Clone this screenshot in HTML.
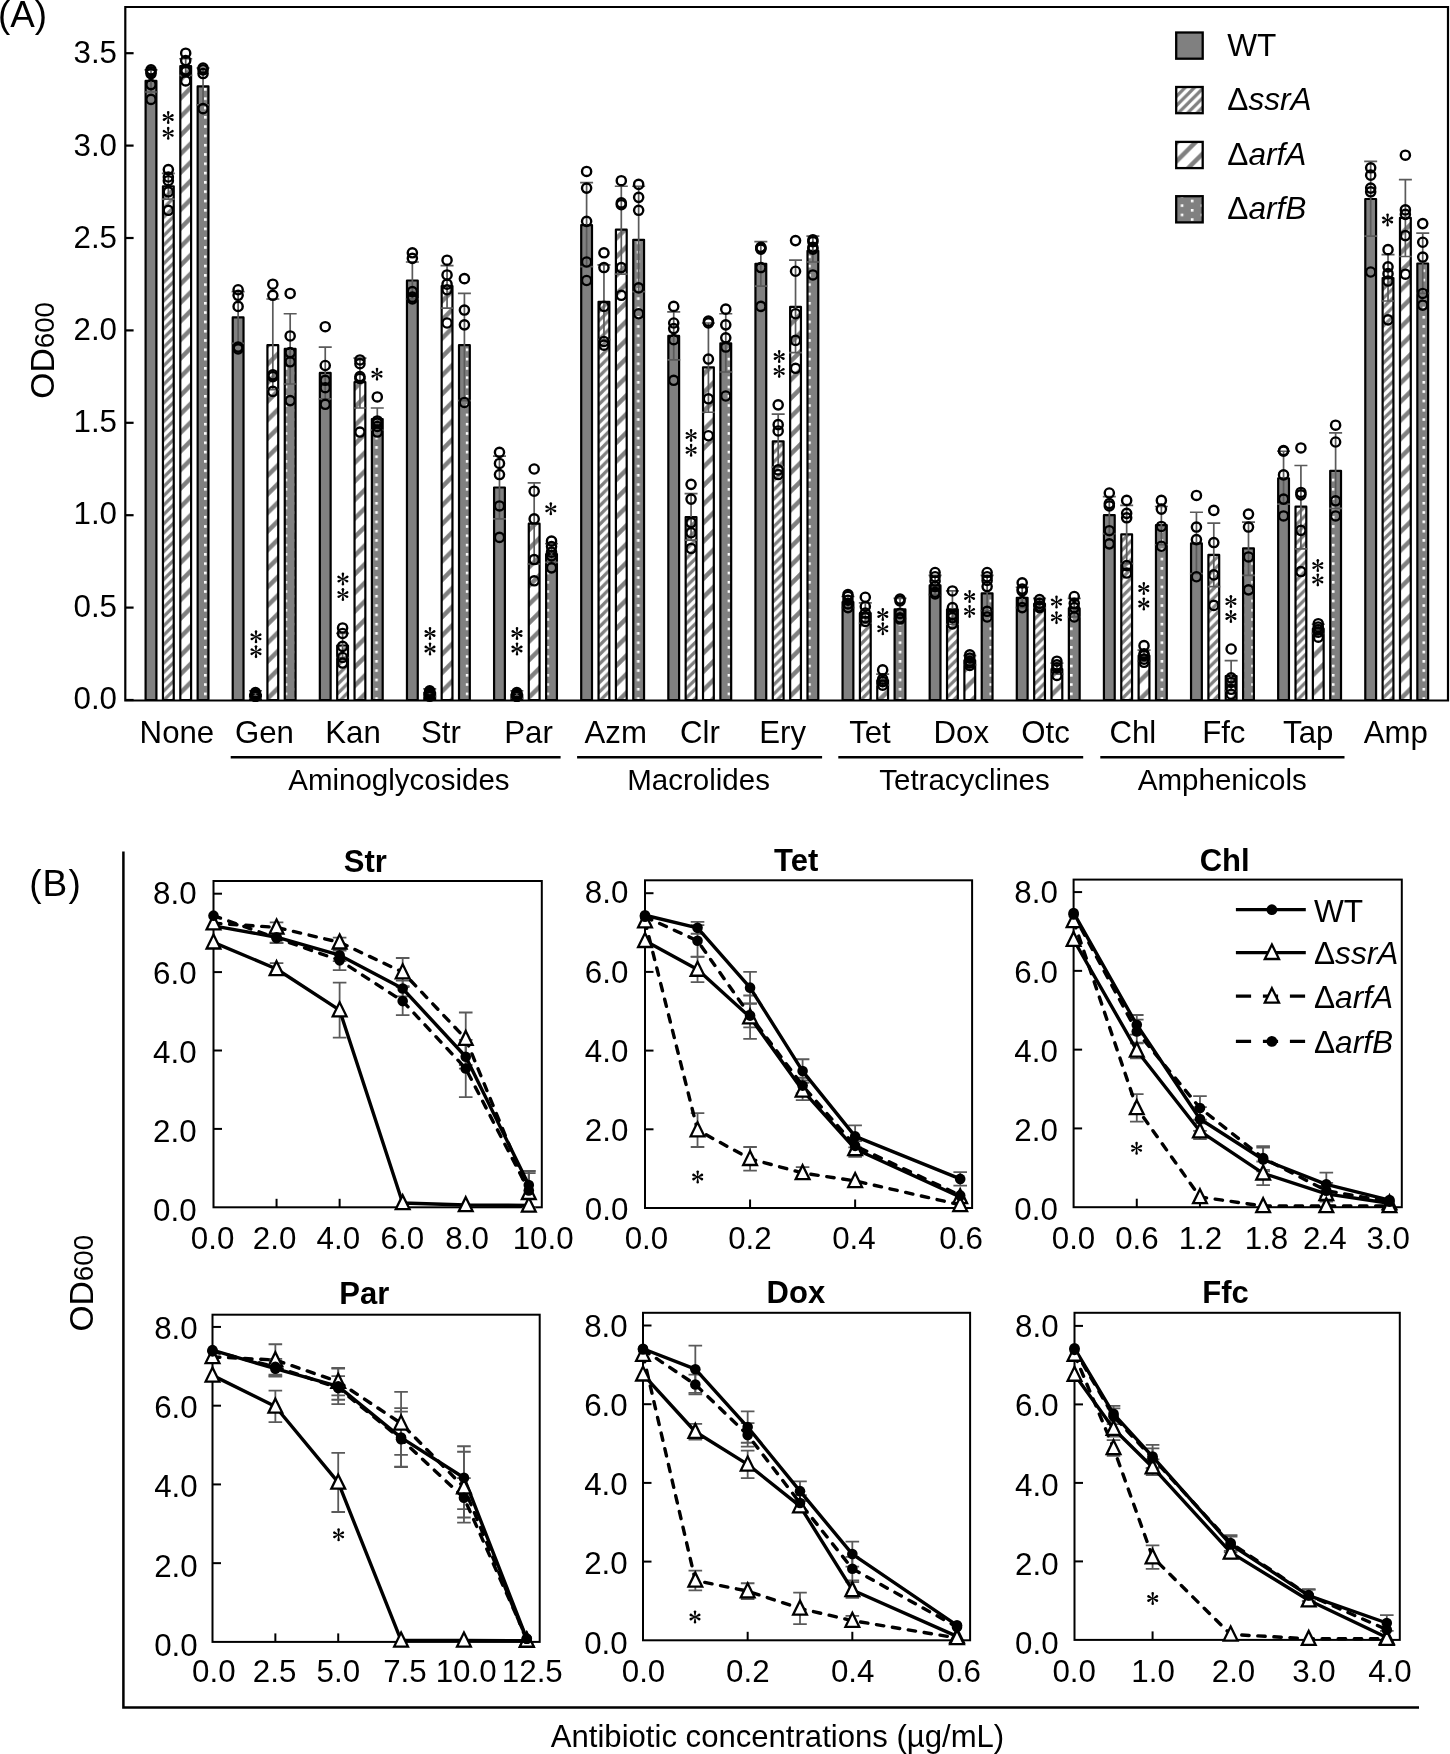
<!DOCTYPE html>
<html><head><meta charset="utf-8"><style>
html,body{margin:0;padding:0;background:#fff;}
svg{display:block;will-change:transform;}
text{font-family:"Liberation Sans", sans-serif;fill:#000;}
</style></head><body>
<svg width="1450" height="1754" viewBox="0 0 1450 1754">
<defs>
<g id="ast"><path d="M0.4 -0.35L5.4 -1.3A1.32 1.32 0 0 1 5.4 1.3L0.4 0.35Z" transform="rotate(-90)"/><path d="M0.4 -0.35L5.4 -1.3A1.32 1.32 0 0 1 5.4 1.3L0.4 0.35Z" transform="rotate(90)"/><path d="M0.4 -0.35L4.95 -1.3A1.32 1.32 0 0 1 4.95 1.3L0.4 0.35Z" transform="rotate(-27)"/><path d="M0.4 -0.35L4.95 -1.3A1.32 1.32 0 0 1 4.95 1.3L0.4 0.35Z" transform="rotate(27)"/><path d="M0.4 -0.35L4.95 -1.3A1.32 1.32 0 0 1 4.95 1.3L0.4 0.35Z" transform="rotate(153)"/><path d="M0.4 -0.35L4.95 -1.3A1.32 1.32 0 0 1 4.95 1.3L0.4 0.35Z" transform="rotate(207)"/><circle r="1.0"/></g>
<pattern id="pWT" patternUnits="userSpaceOnUse" width="10" height="10"><rect width="10" height="10" fill="#808080"/></pattern>
<pattern id="pS" patternUnits="userSpaceOnUse" width="9.29" height="9.29">
 <rect width="9.29" height="9.29" fill="#fff"/>
 <path d="M-2.3 2.3L2.3 -2.3M0 9.29L9.29 0M7 11.6L11.6 7" stroke="#808080" stroke-width="3.2"/>
</pattern>
<pattern id="pA" patternUnits="userSpaceOnUse" width="18.58" height="18.58">
 <rect width="18.58" height="18.58" fill="#fff"/>
 <path d="M-4.65 4.65L4.65 -4.65M0 18.58L18.58 0M13.93 23.23L23.23 13.93" stroke="#808080" stroke-width="4.4"/>
</pattern>
<pattern id="pB" patternUnits="userSpaceOnUse" x="2.6" y="4.37" width="20.14" height="9.3">
 <rect width="20.14" height="9.3" fill="#808080"/>
 <rect x="0" y="0" width="2.6" height="2.6" fill="#fff"/>
 <rect x="10.07" y="4.65" width="2.6" height="2.6" fill="#fff"/>
</pattern>
</defs>
<rect width="1450" height="1754" fill="#fff"/>
<rect x="145.60" y="80.92" width="10.8" height="619.08" fill="url(#pWT)" stroke="#000" stroke-width="2.2" stroke-linejoin="round"/>
<rect x="162.95" y="186.26" width="10.8" height="513.74" fill="url(#pS)" stroke="#000" stroke-width="2.2" stroke-linejoin="round"/>
<rect x="180.30" y="66.14" width="10.8" height="633.86" fill="url(#pA)" stroke="#000" stroke-width="2.2" stroke-linejoin="round"/>
<rect x="197.65" y="86.46" width="10.8" height="613.54" fill="url(#pB)" stroke="#000" stroke-width="2.2" stroke-linejoin="round"/>
<rect x="232.72" y="317.46" width="10.8" height="382.54" fill="url(#pWT)" stroke="#000" stroke-width="2.2" stroke-linejoin="round"/>
<rect x="250.07" y="694.46" width="10.8" height="5.54" fill="url(#pS)" stroke="#000" stroke-width="2.2" stroke-linejoin="round"/>
<rect x="267.42" y="345.18" width="10.8" height="354.82" fill="url(#pA)" stroke="#000" stroke-width="2.2" stroke-linejoin="round"/>
<rect x="284.77" y="348.88" width="10.8" height="351.12" fill="url(#pB)" stroke="#000" stroke-width="2.2" stroke-linejoin="round"/>
<rect x="319.84" y="372.90" width="10.8" height="327.10" fill="url(#pWT)" stroke="#000" stroke-width="2.2" stroke-linejoin="round"/>
<rect x="337.19" y="645.48" width="10.8" height="54.52" fill="url(#pS)" stroke="#000" stroke-width="2.2" stroke-linejoin="round"/>
<rect x="354.54" y="382.14" width="10.8" height="317.86" fill="url(#pA)" stroke="#000" stroke-width="2.2" stroke-linejoin="round"/>
<rect x="371.89" y="419.10" width="10.8" height="280.90" fill="url(#pB)" stroke="#000" stroke-width="2.2" stroke-linejoin="round"/>
<rect x="406.96" y="280.50" width="10.8" height="419.50" fill="url(#pWT)" stroke="#000" stroke-width="2.2" stroke-linejoin="round"/>
<rect x="424.31" y="692.61" width="10.8" height="7.39" fill="url(#pS)" stroke="#000" stroke-width="2.2" stroke-linejoin="round"/>
<rect x="441.66" y="286.05" width="10.8" height="413.95" fill="url(#pA)" stroke="#000" stroke-width="2.2" stroke-linejoin="round"/>
<rect x="459.01" y="345.18" width="10.8" height="354.82" fill="url(#pB)" stroke="#000" stroke-width="2.2" stroke-linejoin="round"/>
<rect x="494.08" y="487.48" width="10.8" height="212.52" fill="url(#pWT)" stroke="#000" stroke-width="2.2" stroke-linejoin="round"/>
<rect x="511.43" y="694.46" width="10.8" height="5.54" fill="url(#pS)" stroke="#000" stroke-width="2.2" stroke-linejoin="round"/>
<rect x="528.78" y="523.70" width="10.8" height="176.30" fill="url(#pA)" stroke="#000" stroke-width="2.2" stroke-linejoin="round"/>
<rect x="546.13" y="554.01" width="10.8" height="145.99" fill="url(#pB)" stroke="#000" stroke-width="2.2" stroke-linejoin="round"/>
<rect x="581.20" y="225.06" width="10.8" height="474.94" fill="url(#pWT)" stroke="#000" stroke-width="2.2" stroke-linejoin="round"/>
<rect x="598.55" y="301.76" width="10.8" height="398.24" fill="url(#pS)" stroke="#000" stroke-width="2.2" stroke-linejoin="round"/>
<rect x="615.90" y="229.68" width="10.8" height="470.32" fill="url(#pA)" stroke="#000" stroke-width="2.2" stroke-linejoin="round"/>
<rect x="633.25" y="239.85" width="10.8" height="460.15" fill="url(#pB)" stroke="#000" stroke-width="2.2" stroke-linejoin="round"/>
<rect x="668.32" y="335.94" width="10.8" height="364.06" fill="url(#pWT)" stroke="#000" stroke-width="2.2" stroke-linejoin="round"/>
<rect x="685.67" y="517.05" width="10.8" height="182.95" fill="url(#pS)" stroke="#000" stroke-width="2.2" stroke-linejoin="round"/>
<rect x="703.02" y="367.36" width="10.8" height="332.64" fill="url(#pA)" stroke="#000" stroke-width="2.2" stroke-linejoin="round"/>
<rect x="720.37" y="343.34" width="10.8" height="356.66" fill="url(#pB)" stroke="#000" stroke-width="2.2" stroke-linejoin="round"/>
<rect x="755.44" y="263.87" width="10.8" height="436.13" fill="url(#pWT)" stroke="#000" stroke-width="2.2" stroke-linejoin="round"/>
<rect x="772.79" y="441.28" width="10.8" height="258.72" fill="url(#pS)" stroke="#000" stroke-width="2.2" stroke-linejoin="round"/>
<rect x="790.14" y="306.93" width="10.8" height="393.07" fill="url(#pA)" stroke="#000" stroke-width="2.2" stroke-linejoin="round"/>
<rect x="807.49" y="250.94" width="10.8" height="449.06" fill="url(#pB)" stroke="#000" stroke-width="2.2" stroke-linejoin="round"/>
<rect x="842.56" y="602.06" width="10.8" height="97.94" fill="url(#pWT)" stroke="#000" stroke-width="2.2" stroke-linejoin="round"/>
<rect x="859.91" y="613.14" width="10.8" height="86.86" fill="url(#pS)" stroke="#000" stroke-width="2.2" stroke-linejoin="round"/>
<rect x="877.26" y="680.23" width="10.8" height="19.77" fill="url(#pA)" stroke="#000" stroke-width="2.2" stroke-linejoin="round"/>
<rect x="894.61" y="609.45" width="10.8" height="90.55" fill="url(#pB)" stroke="#000" stroke-width="2.2" stroke-linejoin="round"/>
<rect x="929.68" y="585.42" width="10.8" height="114.58" fill="url(#pWT)" stroke="#000" stroke-width="2.2" stroke-linejoin="round"/>
<rect x="947.03" y="609.45" width="10.8" height="90.55" fill="url(#pS)" stroke="#000" stroke-width="2.2" stroke-linejoin="round"/>
<rect x="964.38" y="660.45" width="10.8" height="39.55" fill="url(#pA)" stroke="#000" stroke-width="2.2" stroke-linejoin="round"/>
<rect x="981.73" y="593.37" width="10.8" height="106.63" fill="url(#pB)" stroke="#000" stroke-width="2.2" stroke-linejoin="round"/>
<rect x="1016.80" y="597.81" width="10.8" height="102.19" fill="url(#pWT)" stroke="#000" stroke-width="2.2" stroke-linejoin="round"/>
<rect x="1034.15" y="603.90" width="10.8" height="96.10" fill="url(#pS)" stroke="#000" stroke-width="2.2" stroke-linejoin="round"/>
<rect x="1051.50" y="669.14" width="10.8" height="30.86" fill="url(#pA)" stroke="#000" stroke-width="2.2" stroke-linejoin="round"/>
<rect x="1068.85" y="608.34" width="10.8" height="91.66" fill="url(#pB)" stroke="#000" stroke-width="2.2" stroke-linejoin="round"/>
<rect x="1103.92" y="515.20" width="10.8" height="184.80" fill="url(#pWT)" stroke="#000" stroke-width="2.2" stroke-linejoin="round"/>
<rect x="1121.27" y="534.42" width="10.8" height="165.58" fill="url(#pS)" stroke="#000" stroke-width="2.2" stroke-linejoin="round"/>
<rect x="1138.62" y="655.65" width="10.8" height="44.35" fill="url(#pA)" stroke="#000" stroke-width="2.2" stroke-linejoin="round"/>
<rect x="1155.97" y="525.18" width="10.8" height="174.82" fill="url(#pB)" stroke="#000" stroke-width="2.2" stroke-linejoin="round"/>
<rect x="1191.04" y="543.29" width="10.8" height="156.71" fill="url(#pWT)" stroke="#000" stroke-width="2.2" stroke-linejoin="round"/>
<rect x="1208.39" y="554.93" width="10.8" height="145.07" fill="url(#pS)" stroke="#000" stroke-width="2.2" stroke-linejoin="round"/>
<rect x="1225.74" y="675.98" width="10.8" height="24.02" fill="url(#pA)" stroke="#000" stroke-width="2.2" stroke-linejoin="round"/>
<rect x="1243.09" y="548.46" width="10.8" height="151.54" fill="url(#pB)" stroke="#000" stroke-width="2.2" stroke-linejoin="round"/>
<rect x="1278.16" y="478.24" width="10.8" height="221.76" fill="url(#pWT)" stroke="#000" stroke-width="2.2" stroke-linejoin="round"/>
<rect x="1295.51" y="506.70" width="10.8" height="193.30" fill="url(#pS)" stroke="#000" stroke-width="2.2" stroke-linejoin="round"/>
<rect x="1312.86" y="628.67" width="10.8" height="71.33" fill="url(#pA)" stroke="#000" stroke-width="2.2" stroke-linejoin="round"/>
<rect x="1330.21" y="470.85" width="10.8" height="229.15" fill="url(#pB)" stroke="#000" stroke-width="2.2" stroke-linejoin="round"/>
<rect x="1365.28" y="199.01" width="10.8" height="500.99" fill="url(#pWT)" stroke="#000" stroke-width="2.2" stroke-linejoin="round"/>
<rect x="1382.63" y="278.10" width="10.8" height="421.90" fill="url(#pS)" stroke="#000" stroke-width="2.2" stroke-linejoin="round"/>
<rect x="1399.98" y="217.86" width="10.8" height="482.14" fill="url(#pA)" stroke="#000" stroke-width="2.2" stroke-linejoin="round"/>
<rect x="1417.33" y="263.50" width="10.8" height="436.50" fill="url(#pB)" stroke="#000" stroke-width="2.2" stroke-linejoin="round"/>
<path d="M151.00 69.83V92.01M144.50 69.83H157.50M144.50 92.01H157.50" stroke="#5a5a5a" stroke-width="1.7" fill="none"/>
<path d="M168.35 173.32V199.19M161.85 173.32H174.85M161.85 199.19H174.85" stroke="#5a5a5a" stroke-width="1.7" fill="none"/>
<path d="M185.70 58.74V75.38M179.20 58.74H192.20M179.20 75.38H192.20" stroke="#5a5a5a" stroke-width="1.7" fill="none"/>
<path d="M203.05 67.98V104.94M196.55 67.98H209.55M196.55 104.94H209.55" stroke="#5a5a5a" stroke-width="1.7" fill="none"/>
<path d="M238.12 291.59V343.34M231.62 291.59H244.62M231.62 343.34H244.62" stroke="#5a5a5a" stroke-width="1.7" fill="none"/>
<path d="M255.47 690.76V698.15M248.97 690.76H261.97M248.97 698.15H261.97" stroke="#5a5a5a" stroke-width="1.7" fill="none"/>
<path d="M272.82 298.98V389.54M266.32 298.98H279.32M266.32 389.54H279.32" stroke="#5a5a5a" stroke-width="1.7" fill="none"/>
<path d="M290.17 313.77V383.99M283.67 313.77H296.67M283.67 383.99H296.67" stroke="#5a5a5a" stroke-width="1.7" fill="none"/>
<path d="M325.24 347.03V398.78M318.74 347.03H331.74M318.74 398.78H331.74" stroke="#5a5a5a" stroke-width="1.7" fill="none"/>
<path d="M342.59 633.47V657.50M336.09 633.47H349.09M336.09 657.50H349.09" stroke="#5a5a5a" stroke-width="1.7" fill="none"/>
<path d="M359.94 358.12V408.02M353.44 358.12H366.44M353.44 408.02H366.44" stroke="#5a5a5a" stroke-width="1.7" fill="none"/>
<path d="M377.29 408.02V430.19M370.79 408.02H383.79M370.79 430.19H383.79" stroke="#5a5a5a" stroke-width="1.7" fill="none"/>
<path d="M412.36 262.02V298.98M405.86 262.02H418.86M405.86 298.98H418.86" stroke="#5a5a5a" stroke-width="1.7" fill="none"/>
<path d="M429.71 688.91V696.30M423.21 688.91H436.21M423.21 696.30H436.21" stroke="#5a5a5a" stroke-width="1.7" fill="none"/>
<path d="M447.06 265.72V308.22M440.56 265.72H453.56M440.56 308.22H453.56" stroke="#5a5a5a" stroke-width="1.7" fill="none"/>
<path d="M464.41 293.44V400.62M457.91 293.44H470.91M457.91 400.62H470.91" stroke="#5a5a5a" stroke-width="1.7" fill="none"/>
<path d="M499.48 456.06V518.90M492.98 456.06H505.98M492.98 518.90H505.98" stroke="#5a5a5a" stroke-width="1.7" fill="none"/>
<path d="M516.83 690.76V698.15M510.33 690.76H523.33M510.33 698.15H523.33" stroke="#5a5a5a" stroke-width="1.7" fill="none"/>
<path d="M534.18 482.86V563.99M527.68 482.86H540.68M527.68 563.99H540.68" stroke="#5a5a5a" stroke-width="1.7" fill="none"/>
<path d="M551.53 543.66V562.32M545.03 543.66H558.03M545.03 562.32H558.03" stroke="#5a5a5a" stroke-width="1.7" fill="none"/>
<path d="M586.60 182.56V266.64M580.10 182.56H593.10M580.10 266.64H593.10" stroke="#5a5a5a" stroke-width="1.7" fill="none"/>
<path d="M603.95 264.80V339.64M597.45 264.80H610.45M597.45 339.64H610.45" stroke="#5a5a5a" stroke-width="1.7" fill="none"/>
<path d="M621.30 186.26V274.04M614.80 186.26H627.80M614.80 274.04H627.80" stroke="#5a5a5a" stroke-width="1.7" fill="none"/>
<path d="M638.65 186.26V291.59M632.15 186.26H645.15M632.15 291.59H645.15" stroke="#5a5a5a" stroke-width="1.7" fill="none"/>
<path d="M673.72 311.92V359.97M667.22 311.92H680.22M667.22 359.97H680.22" stroke="#5a5a5a" stroke-width="1.7" fill="none"/>
<path d="M691.07 493.58V540.15M684.57 493.58H697.57M684.57 540.15H697.57" stroke="#5a5a5a" stroke-width="1.7" fill="none"/>
<path d="M708.42 323.01V412.27M701.92 323.01H714.92M701.92 412.27H714.92" stroke="#5a5a5a" stroke-width="1.7" fill="none"/>
<path d="M725.77 313.77V371.98M719.27 313.77H732.27M719.27 371.98H732.27" stroke="#5a5a5a" stroke-width="1.7" fill="none"/>
<path d="M760.84 241.70V286.05M754.34 241.70H767.34M754.34 286.05H767.34" stroke="#5a5a5a" stroke-width="1.7" fill="none"/>
<path d="M778.19 414.11V467.15M771.69 414.11H784.69M771.69 467.15H784.69" stroke="#5a5a5a" stroke-width="1.7" fill="none"/>
<path d="M795.54 260.18V352.58M789.04 260.18H802.04M789.04 352.58H802.04" stroke="#5a5a5a" stroke-width="1.7" fill="none"/>
<path d="M812.89 236.15V262.02M806.39 236.15H819.39M806.39 262.02H819.39" stroke="#5a5a5a" stroke-width="1.7" fill="none"/>
<path d="M847.96 596.51V607.60M841.46 596.51H854.46M841.46 607.60H854.46" stroke="#5a5a5a" stroke-width="1.7" fill="none"/>
<path d="M865.31 602.80V623.12M858.81 602.80H871.81M858.81 623.12H871.81" stroke="#5a5a5a" stroke-width="1.7" fill="none"/>
<path d="M882.66 674.13V685.22M876.16 674.13H889.16M876.16 685.22H889.16" stroke="#5a5a5a" stroke-width="1.7" fill="none"/>
<path d="M900.01 598.36V618.69M893.51 598.36H906.51M893.51 618.69H906.51" stroke="#5a5a5a" stroke-width="1.7" fill="none"/>
<path d="M935.08 575.44V594.66M928.58 575.44H941.58M928.58 594.66H941.58" stroke="#5a5a5a" stroke-width="1.7" fill="none"/>
<path d="M952.43 590.97V624.23M945.93 590.97H958.93M945.93 624.23H958.93" stroke="#5a5a5a" stroke-width="1.7" fill="none"/>
<path d="M969.78 655.65V664.89M963.28 655.65H976.28M963.28 664.89H976.28" stroke="#5a5a5a" stroke-width="1.7" fill="none"/>
<path d="M987.13 575.44V610.74M980.63 575.44H993.63M980.63 610.74H993.63" stroke="#5a5a5a" stroke-width="1.7" fill="none"/>
<path d="M1022.20 587.27V607.60M1015.70 587.27H1028.70M1015.70 607.60H1028.70" stroke="#5a5a5a" stroke-width="1.7" fill="none"/>
<path d="M1039.55 598.36V607.60M1033.05 598.36H1046.05M1033.05 607.60H1046.05" stroke="#5a5a5a" stroke-width="1.7" fill="none"/>
<path d="M1056.90 663.04V674.13M1050.40 663.04H1063.40M1050.40 674.13H1063.40" stroke="#5a5a5a" stroke-width="1.7" fill="none"/>
<path d="M1074.25 598.36V616.84M1067.75 598.36H1080.75M1067.75 616.84H1080.75" stroke="#5a5a5a" stroke-width="1.7" fill="none"/>
<path d="M1109.32 496.72V533.68M1102.82 496.72H1115.82M1102.82 533.68H1115.82" stroke="#5a5a5a" stroke-width="1.7" fill="none"/>
<path d="M1126.67 505.41V563.62M1120.17 505.41H1133.17M1120.17 563.62H1133.17" stroke="#5a5a5a" stroke-width="1.7" fill="none"/>
<path d="M1144.02 650.10V661.19M1137.52 650.10H1150.52M1137.52 661.19H1150.52" stroke="#5a5a5a" stroke-width="1.7" fill="none"/>
<path d="M1161.37 506.51V544.77M1154.87 506.51H1167.87M1154.87 544.77H1167.87" stroke="#5a5a5a" stroke-width="1.7" fill="none"/>
<path d="M1196.44 512.24V573.60M1189.94 512.24H1202.94M1189.94 573.60H1202.94" stroke="#5a5a5a" stroke-width="1.7" fill="none"/>
<path d="M1213.79 523.15V586.72M1207.29 523.15H1220.29M1207.29 586.72H1220.29" stroke="#5a5a5a" stroke-width="1.7" fill="none"/>
<path d="M1231.14 660.64V690.76M1224.64 660.64H1237.64M1224.64 690.76H1237.64" stroke="#5a5a5a" stroke-width="1.7" fill="none"/>
<path d="M1248.49 522.04V575.44M1241.99 522.04H1254.99M1241.99 575.44H1254.99" stroke="#5a5a5a" stroke-width="1.7" fill="none"/>
<path d="M1283.56 451.26V504.11M1277.06 451.26H1290.06M1277.06 504.11H1290.06" stroke="#5a5a5a" stroke-width="1.7" fill="none"/>
<path d="M1300.91 465.49V548.83M1294.41 465.49H1307.41M1294.41 548.83H1307.41" stroke="#5a5a5a" stroke-width="1.7" fill="none"/>
<path d="M1318.26 624.23V633.47M1311.76 624.23H1324.76M1311.76 633.47H1324.76" stroke="#5a5a5a" stroke-width="1.7" fill="none"/>
<path d="M1335.61 432.78V508.36M1329.11 432.78H1342.11M1329.11 508.36H1342.11" stroke="#5a5a5a" stroke-width="1.7" fill="none"/>
<path d="M1370.68 161.31V236.15M1364.18 161.31H1377.18M1364.18 236.15H1377.18" stroke="#5a5a5a" stroke-width="1.7" fill="none"/>
<path d="M1388.03 254.63V301.02M1381.53 254.63H1394.53M1381.53 301.02H1394.53" stroke="#5a5a5a" stroke-width="1.7" fill="none"/>
<path d="M1405.38 179.60V256.48M1398.88 179.60H1411.88M1398.88 256.48H1411.88" stroke="#5a5a5a" stroke-width="1.7" fill="none"/>
<path d="M1422.73 233.20V293.44M1416.23 233.20H1429.23M1416.23 293.44H1429.23" stroke="#5a5a5a" stroke-width="1.7" fill="none"/>
<circle cx="151.00" cy="69.83" r="4.6" fill="none" stroke="#000" stroke-width="2.4"/>
<circle cx="151.00" cy="71.68" r="4.6" fill="none" stroke="#000" stroke-width="2.4"/>
<circle cx="151.00" cy="73.53" r="4.6" fill="none" stroke="#000" stroke-width="2.4"/>
<circle cx="151.00" cy="84.62" r="4.6" fill="none" stroke="#000" stroke-width="2.4"/>
<circle cx="151.00" cy="99.40" r="4.6" fill="none" stroke="#000" stroke-width="2.4"/>
<circle cx="168.35" cy="169.62" r="4.6" fill="none" stroke="#000" stroke-width="2.4"/>
<circle cx="168.35" cy="177.02" r="4.6" fill="none" stroke="#000" stroke-width="2.4"/>
<circle cx="168.35" cy="180.71" r="4.6" fill="none" stroke="#000" stroke-width="2.4"/>
<circle cx="168.35" cy="191.80" r="4.6" fill="none" stroke="#000" stroke-width="2.4"/>
<circle cx="168.35" cy="210.28" r="4.6" fill="none" stroke="#000" stroke-width="2.4"/>
<circle cx="185.70" cy="53.20" r="4.6" fill="none" stroke="#000" stroke-width="2.4"/>
<circle cx="185.70" cy="60.59" r="4.6" fill="none" stroke="#000" stroke-width="2.4"/>
<circle cx="185.70" cy="69.83" r="4.6" fill="none" stroke="#000" stroke-width="2.4"/>
<circle cx="185.70" cy="71.68" r="4.6" fill="none" stroke="#000" stroke-width="2.4"/>
<circle cx="185.70" cy="80.92" r="4.6" fill="none" stroke="#000" stroke-width="2.4"/>
<circle cx="203.05" cy="67.98" r="4.6" fill="none" stroke="#000" stroke-width="2.4"/>
<circle cx="203.05" cy="69.83" r="4.6" fill="none" stroke="#000" stroke-width="2.4"/>
<circle cx="203.05" cy="73.53" r="4.6" fill="none" stroke="#000" stroke-width="2.4"/>
<circle cx="203.05" cy="108.64" r="4.6" fill="none" stroke="#000" stroke-width="2.4"/>
<circle cx="238.12" cy="289.74" r="4.6" fill="none" stroke="#000" stroke-width="2.4"/>
<circle cx="238.12" cy="295.29" r="4.6" fill="none" stroke="#000" stroke-width="2.4"/>
<circle cx="238.12" cy="306.38" r="4.6" fill="none" stroke="#000" stroke-width="2.4"/>
<circle cx="238.12" cy="347.03" r="4.6" fill="none" stroke="#000" stroke-width="2.4"/>
<circle cx="238.12" cy="348.88" r="4.6" fill="none" stroke="#000" stroke-width="2.4"/>
<circle cx="255.47" cy="692.61" r="4.6" fill="none" stroke="#000" stroke-width="2.4"/>
<circle cx="255.47" cy="694.46" r="4.6" fill="none" stroke="#000" stroke-width="2.4"/>
<circle cx="255.47" cy="696.30" r="4.6" fill="none" stroke="#000" stroke-width="2.4"/>
<circle cx="255.47" cy="694.46" r="4.6" fill="none" stroke="#000" stroke-width="2.4"/>
<circle cx="255.47" cy="696.30" r="4.6" fill="none" stroke="#000" stroke-width="2.4"/>
<circle cx="272.82" cy="284.20" r="4.6" fill="none" stroke="#000" stroke-width="2.4"/>
<circle cx="272.82" cy="295.29" r="4.6" fill="none" stroke="#000" stroke-width="2.4"/>
<circle cx="272.82" cy="374.75" r="4.6" fill="none" stroke="#000" stroke-width="2.4"/>
<circle cx="272.82" cy="391.38" r="4.6" fill="none" stroke="#000" stroke-width="2.4"/>
<circle cx="272.82" cy="376.60" r="4.6" fill="none" stroke="#000" stroke-width="2.4"/>
<circle cx="290.17" cy="293.44" r="4.6" fill="none" stroke="#000" stroke-width="2.4"/>
<circle cx="290.17" cy="335.94" r="4.6" fill="none" stroke="#000" stroke-width="2.4"/>
<circle cx="290.17" cy="352.58" r="4.6" fill="none" stroke="#000" stroke-width="2.4"/>
<circle cx="290.17" cy="361.82" r="4.6" fill="none" stroke="#000" stroke-width="2.4"/>
<circle cx="290.17" cy="400.62" r="4.6" fill="none" stroke="#000" stroke-width="2.4"/>
<circle cx="325.24" cy="326.70" r="4.6" fill="none" stroke="#000" stroke-width="2.4"/>
<circle cx="325.24" cy="365.51" r="4.6" fill="none" stroke="#000" stroke-width="2.4"/>
<circle cx="325.24" cy="380.30" r="4.6" fill="none" stroke="#000" stroke-width="2.4"/>
<circle cx="325.24" cy="387.69" r="4.6" fill="none" stroke="#000" stroke-width="2.4"/>
<circle cx="325.24" cy="404.32" r="4.6" fill="none" stroke="#000" stroke-width="2.4"/>
<circle cx="342.59" cy="627.93" r="4.6" fill="none" stroke="#000" stroke-width="2.4"/>
<circle cx="342.59" cy="633.47" r="4.6" fill="none" stroke="#000" stroke-width="2.4"/>
<circle cx="342.59" cy="646.41" r="4.6" fill="none" stroke="#000" stroke-width="2.4"/>
<circle cx="342.59" cy="657.50" r="4.6" fill="none" stroke="#000" stroke-width="2.4"/>
<circle cx="342.59" cy="663.04" r="4.6" fill="none" stroke="#000" stroke-width="2.4"/>
<circle cx="359.94" cy="359.97" r="4.6" fill="none" stroke="#000" stroke-width="2.4"/>
<circle cx="359.94" cy="363.66" r="4.6" fill="none" stroke="#000" stroke-width="2.4"/>
<circle cx="359.94" cy="376.60" r="4.6" fill="none" stroke="#000" stroke-width="2.4"/>
<circle cx="359.94" cy="378.45" r="4.6" fill="none" stroke="#000" stroke-width="2.4"/>
<circle cx="359.94" cy="432.04" r="4.6" fill="none" stroke="#000" stroke-width="2.4"/>
<circle cx="377.29" cy="396.93" r="4.6" fill="none" stroke="#000" stroke-width="2.4"/>
<circle cx="377.29" cy="420.95" r="4.6" fill="none" stroke="#000" stroke-width="2.4"/>
<circle cx="377.29" cy="432.04" r="4.6" fill="none" stroke="#000" stroke-width="2.4"/>
<circle cx="377.29" cy="422.80" r="4.6" fill="none" stroke="#000" stroke-width="2.4"/>
<circle cx="377.29" cy="426.50" r="4.6" fill="none" stroke="#000" stroke-width="2.4"/>
<circle cx="412.36" cy="252.78" r="4.6" fill="none" stroke="#000" stroke-width="2.4"/>
<circle cx="412.36" cy="258.33" r="4.6" fill="none" stroke="#000" stroke-width="2.4"/>
<circle cx="412.36" cy="291.59" r="4.6" fill="none" stroke="#000" stroke-width="2.4"/>
<circle cx="412.36" cy="297.14" r="4.6" fill="none" stroke="#000" stroke-width="2.4"/>
<circle cx="412.36" cy="298.98" r="4.6" fill="none" stroke="#000" stroke-width="2.4"/>
<circle cx="429.71" cy="690.76" r="4.6" fill="none" stroke="#000" stroke-width="2.4"/>
<circle cx="429.71" cy="692.61" r="4.6" fill="none" stroke="#000" stroke-width="2.4"/>
<circle cx="429.71" cy="694.46" r="4.6" fill="none" stroke="#000" stroke-width="2.4"/>
<circle cx="429.71" cy="696.30" r="4.6" fill="none" stroke="#000" stroke-width="2.4"/>
<circle cx="429.71" cy="692.61" r="4.6" fill="none" stroke="#000" stroke-width="2.4"/>
<circle cx="447.06" cy="260.18" r="4.6" fill="none" stroke="#000" stroke-width="2.4"/>
<circle cx="447.06" cy="274.96" r="4.6" fill="none" stroke="#000" stroke-width="2.4"/>
<circle cx="447.06" cy="284.20" r="4.6" fill="none" stroke="#000" stroke-width="2.4"/>
<circle cx="447.06" cy="289.74" r="4.6" fill="none" stroke="#000" stroke-width="2.4"/>
<circle cx="447.06" cy="323.01" r="4.6" fill="none" stroke="#000" stroke-width="2.4"/>
<circle cx="464.41" cy="278.66" r="4.6" fill="none" stroke="#000" stroke-width="2.4"/>
<circle cx="464.41" cy="310.07" r="4.6" fill="none" stroke="#000" stroke-width="2.4"/>
<circle cx="464.41" cy="324.86" r="4.6" fill="none" stroke="#000" stroke-width="2.4"/>
<circle cx="464.41" cy="402.47" r="4.6" fill="none" stroke="#000" stroke-width="2.4"/>
<circle cx="499.48" cy="452.37" r="4.6" fill="none" stroke="#000" stroke-width="2.4"/>
<circle cx="499.48" cy="463.46" r="4.6" fill="none" stroke="#000" stroke-width="2.4"/>
<circle cx="499.48" cy="474.54" r="4.6" fill="none" stroke="#000" stroke-width="2.4"/>
<circle cx="499.48" cy="505.96" r="4.6" fill="none" stroke="#000" stroke-width="2.4"/>
<circle cx="499.48" cy="537.38" r="4.6" fill="none" stroke="#000" stroke-width="2.4"/>
<circle cx="516.83" cy="692.61" r="4.6" fill="none" stroke="#000" stroke-width="2.4"/>
<circle cx="516.83" cy="694.46" r="4.6" fill="none" stroke="#000" stroke-width="2.4"/>
<circle cx="516.83" cy="696.30" r="4.6" fill="none" stroke="#000" stroke-width="2.4"/>
<circle cx="516.83" cy="694.46" r="4.6" fill="none" stroke="#000" stroke-width="2.4"/>
<circle cx="516.83" cy="696.30" r="4.6" fill="none" stroke="#000" stroke-width="2.4"/>
<circle cx="534.18" cy="469.00" r="4.6" fill="none" stroke="#000" stroke-width="2.4"/>
<circle cx="534.18" cy="491.18" r="4.6" fill="none" stroke="#000" stroke-width="2.4"/>
<circle cx="534.18" cy="518.90" r="4.6" fill="none" stroke="#000" stroke-width="2.4"/>
<circle cx="534.18" cy="559.55" r="4.6" fill="none" stroke="#000" stroke-width="2.4"/>
<circle cx="534.18" cy="580.80" r="4.6" fill="none" stroke="#000" stroke-width="2.4"/>
<circle cx="551.53" cy="541.07" r="4.6" fill="none" stroke="#000" stroke-width="2.4"/>
<circle cx="551.53" cy="546.62" r="4.6" fill="none" stroke="#000" stroke-width="2.4"/>
<circle cx="551.53" cy="555.86" r="4.6" fill="none" stroke="#000" stroke-width="2.4"/>
<circle cx="551.53" cy="567.87" r="4.6" fill="none" stroke="#000" stroke-width="2.4"/>
<circle cx="551.53" cy="552.16" r="4.6" fill="none" stroke="#000" stroke-width="2.4"/>
<circle cx="586.60" cy="171.47" r="4.6" fill="none" stroke="#000" stroke-width="2.4"/>
<circle cx="586.60" cy="188.10" r="4.6" fill="none" stroke="#000" stroke-width="2.4"/>
<circle cx="586.60" cy="221.37" r="4.6" fill="none" stroke="#000" stroke-width="2.4"/>
<circle cx="586.60" cy="262.02" r="4.6" fill="none" stroke="#000" stroke-width="2.4"/>
<circle cx="586.60" cy="280.50" r="4.6" fill="none" stroke="#000" stroke-width="2.4"/>
<circle cx="603.95" cy="252.78" r="4.6" fill="none" stroke="#000" stroke-width="2.4"/>
<circle cx="603.95" cy="267.57" r="4.6" fill="none" stroke="#000" stroke-width="2.4"/>
<circle cx="603.95" cy="306.38" r="4.6" fill="none" stroke="#000" stroke-width="2.4"/>
<circle cx="603.95" cy="341.49" r="4.6" fill="none" stroke="#000" stroke-width="2.4"/>
<circle cx="603.95" cy="345.18" r="4.6" fill="none" stroke="#000" stroke-width="2.4"/>
<circle cx="621.30" cy="180.71" r="4.6" fill="none" stroke="#000" stroke-width="2.4"/>
<circle cx="621.30" cy="202.89" r="4.6" fill="none" stroke="#000" stroke-width="2.4"/>
<circle cx="621.30" cy="204.74" r="4.6" fill="none" stroke="#000" stroke-width="2.4"/>
<circle cx="621.30" cy="267.57" r="4.6" fill="none" stroke="#000" stroke-width="2.4"/>
<circle cx="621.30" cy="295.29" r="4.6" fill="none" stroke="#000" stroke-width="2.4"/>
<circle cx="638.65" cy="184.41" r="4.6" fill="none" stroke="#000" stroke-width="2.4"/>
<circle cx="638.65" cy="197.34" r="4.6" fill="none" stroke="#000" stroke-width="2.4"/>
<circle cx="638.65" cy="210.28" r="4.6" fill="none" stroke="#000" stroke-width="2.4"/>
<circle cx="638.65" cy="287.90" r="4.6" fill="none" stroke="#000" stroke-width="2.4"/>
<circle cx="638.65" cy="313.77" r="4.6" fill="none" stroke="#000" stroke-width="2.4"/>
<circle cx="673.72" cy="306.38" r="4.6" fill="none" stroke="#000" stroke-width="2.4"/>
<circle cx="673.72" cy="323.01" r="4.6" fill="none" stroke="#000" stroke-width="2.4"/>
<circle cx="673.72" cy="328.55" r="4.6" fill="none" stroke="#000" stroke-width="2.4"/>
<circle cx="673.72" cy="339.64" r="4.6" fill="none" stroke="#000" stroke-width="2.4"/>
<circle cx="673.72" cy="380.30" r="4.6" fill="none" stroke="#000" stroke-width="2.4"/>
<circle cx="691.07" cy="484.34" r="4.6" fill="none" stroke="#000" stroke-width="2.4"/>
<circle cx="691.07" cy="499.12" r="4.6" fill="none" stroke="#000" stroke-width="2.4"/>
<circle cx="691.07" cy="522.59" r="4.6" fill="none" stroke="#000" stroke-width="2.4"/>
<circle cx="691.07" cy="532.76" r="4.6" fill="none" stroke="#000" stroke-width="2.4"/>
<circle cx="691.07" cy="548.46" r="4.6" fill="none" stroke="#000" stroke-width="2.4"/>
<circle cx="708.42" cy="321.16" r="4.6" fill="none" stroke="#000" stroke-width="2.4"/>
<circle cx="708.42" cy="323.01" r="4.6" fill="none" stroke="#000" stroke-width="2.4"/>
<circle cx="708.42" cy="359.04" r="4.6" fill="none" stroke="#000" stroke-width="2.4"/>
<circle cx="708.42" cy="398.78" r="4.6" fill="none" stroke="#000" stroke-width="2.4"/>
<circle cx="708.42" cy="435.74" r="4.6" fill="none" stroke="#000" stroke-width="2.4"/>
<circle cx="725.77" cy="309.15" r="4.6" fill="none" stroke="#000" stroke-width="2.4"/>
<circle cx="725.77" cy="324.86" r="4.6" fill="none" stroke="#000" stroke-width="2.4"/>
<circle cx="725.77" cy="337.79" r="4.6" fill="none" stroke="#000" stroke-width="2.4"/>
<circle cx="725.77" cy="347.03" r="4.6" fill="none" stroke="#000" stroke-width="2.4"/>
<circle cx="725.77" cy="396.00" r="4.6" fill="none" stroke="#000" stroke-width="2.4"/>
<circle cx="760.84" cy="249.09" r="4.6" fill="none" stroke="#000" stroke-width="2.4"/>
<circle cx="760.84" cy="248.16" r="4.6" fill="none" stroke="#000" stroke-width="2.4"/>
<circle cx="760.84" cy="267.57" r="4.6" fill="none" stroke="#000" stroke-width="2.4"/>
<circle cx="760.84" cy="306.38" r="4.6" fill="none" stroke="#000" stroke-width="2.4"/>
<circle cx="760.84" cy="247.24" r="4.6" fill="none" stroke="#000" stroke-width="2.4"/>
<circle cx="778.19" cy="404.87" r="4.6" fill="none" stroke="#000" stroke-width="2.4"/>
<circle cx="778.19" cy="424.65" r="4.6" fill="none" stroke="#000" stroke-width="2.4"/>
<circle cx="778.19" cy="430.93" r="4.6" fill="none" stroke="#000" stroke-width="2.4"/>
<circle cx="778.19" cy="469.92" r="4.6" fill="none" stroke="#000" stroke-width="2.4"/>
<circle cx="778.19" cy="474.54" r="4.6" fill="none" stroke="#000" stroke-width="2.4"/>
<circle cx="795.54" cy="240.59" r="4.6" fill="none" stroke="#000" stroke-width="2.4"/>
<circle cx="795.54" cy="271.26" r="4.6" fill="none" stroke="#000" stroke-width="2.4"/>
<circle cx="795.54" cy="313.77" r="4.6" fill="none" stroke="#000" stroke-width="2.4"/>
<circle cx="795.54" cy="340.38" r="4.6" fill="none" stroke="#000" stroke-width="2.4"/>
<circle cx="795.54" cy="368.28" r="4.6" fill="none" stroke="#000" stroke-width="2.4"/>
<circle cx="812.89" cy="239.85" r="4.6" fill="none" stroke="#000" stroke-width="2.4"/>
<circle cx="812.89" cy="241.70" r="4.6" fill="none" stroke="#000" stroke-width="2.4"/>
<circle cx="812.89" cy="247.24" r="4.6" fill="none" stroke="#000" stroke-width="2.4"/>
<circle cx="812.89" cy="249.09" r="4.6" fill="none" stroke="#000" stroke-width="2.4"/>
<circle cx="812.89" cy="274.96" r="4.6" fill="none" stroke="#000" stroke-width="2.4"/>
<circle cx="847.96" cy="594.66" r="4.6" fill="none" stroke="#000" stroke-width="2.4"/>
<circle cx="847.96" cy="596.51" r="4.6" fill="none" stroke="#000" stroke-width="2.4"/>
<circle cx="847.96" cy="600.21" r="4.6" fill="none" stroke="#000" stroke-width="2.4"/>
<circle cx="847.96" cy="603.90" r="4.6" fill="none" stroke="#000" stroke-width="2.4"/>
<circle cx="847.96" cy="607.60" r="4.6" fill="none" stroke="#000" stroke-width="2.4"/>
<circle cx="865.31" cy="597.25" r="4.6" fill="none" stroke="#000" stroke-width="2.4"/>
<circle cx="865.31" cy="606.49" r="4.6" fill="none" stroke="#000" stroke-width="2.4"/>
<circle cx="865.31" cy="617.76" r="4.6" fill="none" stroke="#000" stroke-width="2.4"/>
<circle cx="865.31" cy="621.46" r="4.6" fill="none" stroke="#000" stroke-width="2.4"/>
<circle cx="865.31" cy="613.14" r="4.6" fill="none" stroke="#000" stroke-width="2.4"/>
<circle cx="882.66" cy="669.88" r="4.6" fill="none" stroke="#000" stroke-width="2.4"/>
<circle cx="882.66" cy="679.12" r="4.6" fill="none" stroke="#000" stroke-width="2.4"/>
<circle cx="882.66" cy="681.70" r="4.6" fill="none" stroke="#000" stroke-width="2.4"/>
<circle cx="882.66" cy="681.52" r="4.6" fill="none" stroke="#000" stroke-width="2.4"/>
<circle cx="882.66" cy="685.22" r="4.6" fill="none" stroke="#000" stroke-width="2.4"/>
<circle cx="900.01" cy="599.10" r="4.6" fill="none" stroke="#000" stroke-width="2.4"/>
<circle cx="900.01" cy="600.95" r="4.6" fill="none" stroke="#000" stroke-width="2.4"/>
<circle cx="900.01" cy="613.33" r="4.6" fill="none" stroke="#000" stroke-width="2.4"/>
<circle cx="900.01" cy="617.76" r="4.6" fill="none" stroke="#000" stroke-width="2.4"/>
<circle cx="900.01" cy="619.06" r="4.6" fill="none" stroke="#000" stroke-width="2.4"/>
<circle cx="935.08" cy="572.49" r="4.6" fill="none" stroke="#000" stroke-width="2.4"/>
<circle cx="935.08" cy="576.74" r="4.6" fill="none" stroke="#000" stroke-width="2.4"/>
<circle cx="935.08" cy="580.99" r="4.6" fill="none" stroke="#000" stroke-width="2.4"/>
<circle cx="935.08" cy="586.53" r="4.6" fill="none" stroke="#000" stroke-width="2.4"/>
<circle cx="935.08" cy="592.26" r="4.6" fill="none" stroke="#000" stroke-width="2.4"/>
<circle cx="935.08" cy="593.92" r="4.6" fill="none" stroke="#000" stroke-width="2.4"/>
<circle cx="952.43" cy="590.97" r="4.6" fill="none" stroke="#000" stroke-width="2.4"/>
<circle cx="952.43" cy="614.44" r="4.6" fill="none" stroke="#000" stroke-width="2.4"/>
<circle cx="952.43" cy="617.76" r="4.6" fill="none" stroke="#000" stroke-width="2.4"/>
<circle cx="952.43" cy="623.86" r="4.6" fill="none" stroke="#000" stroke-width="2.4"/>
<circle cx="952.43" cy="607.60" r="4.6" fill="none" stroke="#000" stroke-width="2.4"/>
<circle cx="969.78" cy="654.91" r="4.6" fill="none" stroke="#000" stroke-width="2.4"/>
<circle cx="969.78" cy="658.05" r="4.6" fill="none" stroke="#000" stroke-width="2.4"/>
<circle cx="969.78" cy="661.19" r="4.6" fill="none" stroke="#000" stroke-width="2.4"/>
<circle cx="969.78" cy="665.44" r="4.6" fill="none" stroke="#000" stroke-width="2.4"/>
<circle cx="969.78" cy="663.04" r="4.6" fill="none" stroke="#000" stroke-width="2.4"/>
<circle cx="987.13" cy="572.49" r="4.6" fill="none" stroke="#000" stroke-width="2.4"/>
<circle cx="987.13" cy="576.74" r="4.6" fill="none" stroke="#000" stroke-width="2.4"/>
<circle cx="987.13" cy="580.43" r="4.6" fill="none" stroke="#000" stroke-width="2.4"/>
<circle cx="987.13" cy="586.53" r="4.6" fill="none" stroke="#000" stroke-width="2.4"/>
<circle cx="987.13" cy="611.30" r="4.6" fill="none" stroke="#000" stroke-width="2.4"/>
<circle cx="987.13" cy="617.02" r="4.6" fill="none" stroke="#000" stroke-width="2.4"/>
<circle cx="1022.20" cy="582.84" r="4.6" fill="none" stroke="#000" stroke-width="2.4"/>
<circle cx="1022.20" cy="589.12" r="4.6" fill="none" stroke="#000" stroke-width="2.4"/>
<circle cx="1022.20" cy="590.97" r="4.6" fill="none" stroke="#000" stroke-width="2.4"/>
<circle cx="1022.20" cy="601.50" r="4.6" fill="none" stroke="#000" stroke-width="2.4"/>
<circle cx="1022.20" cy="607.60" r="4.6" fill="none" stroke="#000" stroke-width="2.4"/>
<circle cx="1039.55" cy="599.65" r="4.6" fill="none" stroke="#000" stroke-width="2.4"/>
<circle cx="1039.55" cy="603.35" r="4.6" fill="none" stroke="#000" stroke-width="2.4"/>
<circle cx="1039.55" cy="605.94" r="4.6" fill="none" stroke="#000" stroke-width="2.4"/>
<circle cx="1039.55" cy="607.60" r="4.6" fill="none" stroke="#000" stroke-width="2.4"/>
<circle cx="1056.90" cy="661.19" r="4.6" fill="none" stroke="#000" stroke-width="2.4"/>
<circle cx="1056.90" cy="664.89" r="4.6" fill="none" stroke="#000" stroke-width="2.4"/>
<circle cx="1056.90" cy="667.84" r="4.6" fill="none" stroke="#000" stroke-width="2.4"/>
<circle cx="1056.90" cy="675.42" r="4.6" fill="none" stroke="#000" stroke-width="2.4"/>
<circle cx="1074.25" cy="596.51" r="4.6" fill="none" stroke="#000" stroke-width="2.4"/>
<circle cx="1074.25" cy="603.35" r="4.6" fill="none" stroke="#000" stroke-width="2.4"/>
<circle cx="1074.25" cy="607.60" r="4.6" fill="none" stroke="#000" stroke-width="2.4"/>
<circle cx="1074.25" cy="617.02" r="4.6" fill="none" stroke="#000" stroke-width="2.4"/>
<circle cx="1109.32" cy="493.02" r="4.6" fill="none" stroke="#000" stroke-width="2.4"/>
<circle cx="1109.32" cy="503.56" r="4.6" fill="none" stroke="#000" stroke-width="2.4"/>
<circle cx="1109.32" cy="505.96" r="4.6" fill="none" stroke="#000" stroke-width="2.4"/>
<circle cx="1109.32" cy="530.72" r="4.6" fill="none" stroke="#000" stroke-width="2.4"/>
<circle cx="1109.32" cy="543.84" r="4.6" fill="none" stroke="#000" stroke-width="2.4"/>
<circle cx="1126.67" cy="500.42" r="4.6" fill="none" stroke="#000" stroke-width="2.4"/>
<circle cx="1126.67" cy="513.35" r="4.6" fill="none" stroke="#000" stroke-width="2.4"/>
<circle cx="1126.67" cy="517.79" r="4.6" fill="none" stroke="#000" stroke-width="2.4"/>
<circle cx="1126.67" cy="565.65" r="4.6" fill="none" stroke="#000" stroke-width="2.4"/>
<circle cx="1126.67" cy="573.04" r="4.6" fill="none" stroke="#000" stroke-width="2.4"/>
<circle cx="1144.02" cy="645.67" r="4.6" fill="none" stroke="#000" stroke-width="2.4"/>
<circle cx="1144.02" cy="659.16" r="4.6" fill="none" stroke="#000" stroke-width="2.4"/>
<circle cx="1144.02" cy="662.30" r="4.6" fill="none" stroke="#000" stroke-width="2.4"/>
<circle cx="1144.02" cy="655.65" r="4.6" fill="none" stroke="#000" stroke-width="2.4"/>
<circle cx="1144.02" cy="653.80" r="4.6" fill="none" stroke="#000" stroke-width="2.4"/>
<circle cx="1161.37" cy="500.42" r="4.6" fill="none" stroke="#000" stroke-width="2.4"/>
<circle cx="1161.37" cy="509.10" r="4.6" fill="none" stroke="#000" stroke-width="2.4"/>
<circle cx="1161.37" cy="526.47" r="4.6" fill="none" stroke="#000" stroke-width="2.4"/>
<circle cx="1161.37" cy="546.25" r="4.6" fill="none" stroke="#000" stroke-width="2.4"/>
<circle cx="1196.44" cy="495.43" r="4.6" fill="none" stroke="#000" stroke-width="2.4"/>
<circle cx="1196.44" cy="527.03" r="4.6" fill="none" stroke="#000" stroke-width="2.4"/>
<circle cx="1196.44" cy="539.59" r="4.6" fill="none" stroke="#000" stroke-width="2.4"/>
<circle cx="1196.44" cy="576.74" r="4.6" fill="none" stroke="#000" stroke-width="2.4"/>
<circle cx="1213.79" cy="510.40" r="4.6" fill="none" stroke="#000" stroke-width="2.4"/>
<circle cx="1213.79" cy="542.55" r="4.6" fill="none" stroke="#000" stroke-width="2.4"/>
<circle cx="1213.79" cy="574.89" r="4.6" fill="none" stroke="#000" stroke-width="2.4"/>
<circle cx="1213.79" cy="605.38" r="4.6" fill="none" stroke="#000" stroke-width="2.4"/>
<circle cx="1231.14" cy="649.00" r="4.6" fill="none" stroke="#000" stroke-width="2.4"/>
<circle cx="1231.14" cy="677.82" r="4.6" fill="none" stroke="#000" stroke-width="2.4"/>
<circle cx="1231.14" cy="682.44" r="4.6" fill="none" stroke="#000" stroke-width="2.4"/>
<circle cx="1231.14" cy="689.28" r="4.6" fill="none" stroke="#000" stroke-width="2.4"/>
<circle cx="1231.14" cy="694.27" r="4.6" fill="none" stroke="#000" stroke-width="2.4"/>
<circle cx="1248.49" cy="514.09" r="4.6" fill="none" stroke="#000" stroke-width="2.4"/>
<circle cx="1248.49" cy="527.03" r="4.6" fill="none" stroke="#000" stroke-width="2.4"/>
<circle cx="1248.49" cy="556.96" r="4.6" fill="none" stroke="#000" stroke-width="2.4"/>
<circle cx="1248.49" cy="589.86" r="4.6" fill="none" stroke="#000" stroke-width="2.4"/>
<circle cx="1283.56" cy="450.52" r="4.6" fill="none" stroke="#000" stroke-width="2.4"/>
<circle cx="1283.56" cy="451.26" r="4.6" fill="none" stroke="#000" stroke-width="2.4"/>
<circle cx="1283.56" cy="474.91" r="4.6" fill="none" stroke="#000" stroke-width="2.4"/>
<circle cx="1283.56" cy="499.12" r="4.6" fill="none" stroke="#000" stroke-width="2.4"/>
<circle cx="1283.56" cy="515.94" r="4.6" fill="none" stroke="#000" stroke-width="2.4"/>
<circle cx="1300.91" cy="447.93" r="4.6" fill="none" stroke="#000" stroke-width="2.4"/>
<circle cx="1300.91" cy="492.47" r="4.6" fill="none" stroke="#000" stroke-width="2.4"/>
<circle cx="1300.91" cy="494.87" r="4.6" fill="none" stroke="#000" stroke-width="2.4"/>
<circle cx="1300.91" cy="530.35" r="4.6" fill="none" stroke="#000" stroke-width="2.4"/>
<circle cx="1300.91" cy="571.56" r="4.6" fill="none" stroke="#000" stroke-width="2.4"/>
<circle cx="1318.26" cy="623.68" r="4.6" fill="none" stroke="#000" stroke-width="2.4"/>
<circle cx="1318.26" cy="627.00" r="4.6" fill="none" stroke="#000" stroke-width="2.4"/>
<circle cx="1318.26" cy="632.18" r="4.6" fill="none" stroke="#000" stroke-width="2.4"/>
<circle cx="1318.26" cy="637.17" r="4.6" fill="none" stroke="#000" stroke-width="2.4"/>
<circle cx="1318.26" cy="629.78" r="4.6" fill="none" stroke="#000" stroke-width="2.4"/>
<circle cx="1335.61" cy="425.20" r="4.6" fill="none" stroke="#000" stroke-width="2.4"/>
<circle cx="1335.61" cy="442.02" r="4.6" fill="none" stroke="#000" stroke-width="2.4"/>
<circle cx="1335.61" cy="500.79" r="4.6" fill="none" stroke="#000" stroke-width="2.4"/>
<circle cx="1335.61" cy="515.94" r="4.6" fill="none" stroke="#000" stroke-width="2.4"/>
<circle cx="1370.68" cy="167.78" r="4.6" fill="none" stroke="#000" stroke-width="2.4"/>
<circle cx="1370.68" cy="175.17" r="4.6" fill="none" stroke="#000" stroke-width="2.4"/>
<circle cx="1370.68" cy="188.10" r="4.6" fill="none" stroke="#000" stroke-width="2.4"/>
<circle cx="1370.68" cy="191.80" r="4.6" fill="none" stroke="#000" stroke-width="2.4"/>
<circle cx="1370.68" cy="272.00" r="4.6" fill="none" stroke="#000" stroke-width="2.4"/>
<circle cx="1388.03" cy="249.64" r="4.6" fill="none" stroke="#000" stroke-width="2.4"/>
<circle cx="1388.03" cy="266.83" r="4.6" fill="none" stroke="#000" stroke-width="2.4"/>
<circle cx="1388.03" cy="273.67" r="4.6" fill="none" stroke="#000" stroke-width="2.4"/>
<circle cx="1388.03" cy="281.06" r="4.6" fill="none" stroke="#000" stroke-width="2.4"/>
<circle cx="1388.03" cy="319.87" r="4.6" fill="none" stroke="#000" stroke-width="2.4"/>
<circle cx="1405.38" cy="155.21" r="4.6" fill="none" stroke="#000" stroke-width="2.4"/>
<circle cx="1405.38" cy="209.91" r="4.6" fill="none" stroke="#000" stroke-width="2.4"/>
<circle cx="1405.38" cy="214.35" r="4.6" fill="none" stroke="#000" stroke-width="2.4"/>
<circle cx="1405.38" cy="235.60" r="4.6" fill="none" stroke="#000" stroke-width="2.4"/>
<circle cx="1405.38" cy="274.22" r="4.6" fill="none" stroke="#000" stroke-width="2.4"/>
<circle cx="1422.73" cy="223.59" r="4.6" fill="none" stroke="#000" stroke-width="2.4"/>
<circle cx="1422.73" cy="242.25" r="4.6" fill="none" stroke="#000" stroke-width="2.4"/>
<circle cx="1422.73" cy="257.03" r="4.6" fill="none" stroke="#000" stroke-width="2.4"/>
<circle cx="1422.73" cy="293.44" r="4.6" fill="none" stroke="#000" stroke-width="2.4"/>
<circle cx="1422.73" cy="305.08" r="4.6" fill="none" stroke="#000" stroke-width="2.4"/>
<path d="M125.3 7.0H1448.0V700.5H125.3Z" fill="none" stroke="#000" stroke-width="2.2"/>
<path d="M125.3 700.00H133.6" stroke="#000" stroke-width="2.2"/>
<text x="117.0" y="708.70" text-anchor="end" font-size="31.3">0.0</text>
<path d="M125.3 607.60H133.6" stroke="#000" stroke-width="2.2"/>
<text x="117.0" y="616.50" text-anchor="end" font-size="31.3">0.5</text>
<path d="M125.3 515.20H133.6" stroke="#000" stroke-width="2.2"/>
<text x="117.0" y="524.30" text-anchor="end" font-size="31.3">1.0</text>
<path d="M125.3 422.80H133.6" stroke="#000" stroke-width="2.2"/>
<text x="117.0" y="432.10" text-anchor="end" font-size="31.3">1.5</text>
<path d="M125.3 330.40H133.6" stroke="#000" stroke-width="2.2"/>
<text x="117.0" y="339.90" text-anchor="end" font-size="31.3">2.0</text>
<path d="M125.3 238.00H133.6" stroke="#000" stroke-width="2.2"/>
<text x="117.0" y="247.70" text-anchor="end" font-size="31.3">2.5</text>
<path d="M125.3 145.60H133.6" stroke="#000" stroke-width="2.2"/>
<text x="117.0" y="155.50" text-anchor="end" font-size="31.3">3.0</text>
<path d="M125.3 53.20H133.6" stroke="#000" stroke-width="2.2"/>
<text x="117.0" y="63.30" text-anchor="end" font-size="31.3">3.5</text>
<use href="#ast" x="168.20" y="117.50"/>
<use href="#ast" x="168.20" y="133.30"/>
<use href="#ast" x="256.00" y="636.80"/>
<use href="#ast" x="256.00" y="651.70"/>
<use href="#ast" x="342.90" y="579.10"/>
<use href="#ast" x="342.90" y="594.60"/>
<use href="#ast" x="377.00" y="374.20"/>
<use href="#ast" x="430.00" y="633.50"/>
<use href="#ast" x="430.00" y="649.00"/>
<use href="#ast" x="517.00" y="633.50"/>
<use href="#ast" x="517.00" y="649.00"/>
<use href="#ast" x="550.80" y="508.80"/>
<use href="#ast" x="691.10" y="435.40"/>
<use href="#ast" x="691.10" y="450.30"/>
<use href="#ast" x="779.20" y="356.50"/>
<use href="#ast" x="779.20" y="371.40"/>
<use href="#ast" x="882.80" y="614.50"/>
<use href="#ast" x="882.80" y="628.80"/>
<use href="#ast" x="969.60" y="596.50"/>
<use href="#ast" x="969.60" y="611.40"/>
<use href="#ast" x="1056.50" y="602.10"/>
<use href="#ast" x="1056.50" y="617.70"/>
<use href="#ast" x="1143.80" y="588.50"/>
<use href="#ast" x="1143.80" y="604.00"/>
<use href="#ast" x="1230.90" y="601.60"/>
<use href="#ast" x="1230.90" y="616.50"/>
<use href="#ast" x="1317.80" y="565.60"/>
<use href="#ast" x="1317.80" y="579.90"/>
<use href="#ast" x="1387.60" y="220.00"/>
<text x="176.90" y="742.9" text-anchor="middle" font-size="31.2">None</text>
<text x="264.50" y="742.9" text-anchor="middle" font-size="31.2">Gen</text>
<text x="353.00" y="742.9" text-anchor="middle" font-size="31.2">Kan</text>
<text x="441.00" y="742.9" text-anchor="middle" font-size="31.2">Str</text>
<text x="528.60" y="742.9" text-anchor="middle" font-size="31.2">Par</text>
<text x="615.70" y="742.9" text-anchor="middle" font-size="31.2">Azm</text>
<text x="699.90" y="742.9" text-anchor="middle" font-size="31.2">Clr</text>
<text x="782.60" y="742.9" text-anchor="middle" font-size="31.2">Ery</text>
<text x="870.00" y="742.9" text-anchor="middle" font-size="31.2">Tet</text>
<text x="961.30" y="742.9" text-anchor="middle" font-size="31.2">Dox</text>
<text x="1045.60" y="742.9" text-anchor="middle" font-size="31.2">Otc</text>
<text x="1132.90" y="742.9" text-anchor="middle" font-size="31.2">Chl</text>
<text x="1223.80" y="742.9" text-anchor="middle" font-size="31.2">Ffc</text>
<text x="1308.20" y="742.9" text-anchor="middle" font-size="31.2">Tap</text>
<text x="1395.80" y="742.9" text-anchor="middle" font-size="31.2">Amp</text>
<path d="M230.70 757.3H560.60" stroke="#000" stroke-width="2.4"/>
<text x="398.90" y="790.2" text-anchor="middle" font-size="29.5">Aminoglycosides</text>
<path d="M577.10 757.3H822.10" stroke="#000" stroke-width="2.4"/>
<text x="698.60" y="790.2" text-anchor="middle" font-size="29.5">Macrolides</text>
<path d="M838.30 757.3H1083.20" stroke="#000" stroke-width="2.4"/>
<text x="964.50" y="790.2" text-anchor="middle" font-size="29.5">Tetracyclines</text>
<path d="M1100.30 757.3H1344.50" stroke="#000" stroke-width="2.4"/>
<text x="1222.30" y="790.2" text-anchor="middle" font-size="29.5">Amphenicols</text>
<rect x="1176.2" y="32.50" width="26.5" height="26.2" fill="url(#pWT)" stroke="#000" stroke-width="2.3"/>
<text x="1227.3" y="55.50" font-size="31.6">WT</text>
<rect x="1176.2" y="87.00" width="26.5" height="26.2" fill="url(#pS)" stroke="#000" stroke-width="2.3"/>
<text x="1227.3" y="110.00" font-size="31.6">Δ<tspan font-style="italic">ssrA</tspan></text>
<rect x="1176.2" y="141.90" width="26.5" height="26.2" fill="url(#pA)" stroke="#000" stroke-width="2.3"/>
<text x="1227.3" y="164.90" font-size="31.6">Δ<tspan font-style="italic">arfA</tspan></text>
<rect x="1176.2" y="196.20" width="26.5" height="26.2" fill="url(#pB)" stroke="#000" stroke-width="2.3"/>
<text x="1227.3" y="219.20" font-size="31.6">Δ<tspan font-style="italic">arfB</tspan></text>
<text x="-2.0" y="27.3" font-size="36.8">(A)</text>
<text transform="translate(54.3 350.3) rotate(-90)" text-anchor="middle" font-size="33.6">OD<tspan font-size="27.8">600</tspan></text>
<rect x="213.5" y="881.0" width="328.30" height="326.30" fill="none" stroke="#000" stroke-width="2"/>
<text x="196.60" y="1221.47" text-anchor="end" font-size="31.3">0.0</text>
<path d="M213.5 1128.90H222.0" stroke="#000" stroke-width="2"/>
<text x="196.60" y="1142.19" text-anchor="end" font-size="31.3">2.0</text>
<path d="M213.5 1050.50H222.0" stroke="#000" stroke-width="2"/>
<text x="196.60" y="1062.91" text-anchor="end" font-size="31.3">4.0</text>
<path d="M213.5 972.10H222.0" stroke="#000" stroke-width="2"/>
<text x="196.60" y="983.63" text-anchor="end" font-size="31.3">6.0</text>
<path d="M213.5 893.70H222.0" stroke="#000" stroke-width="2"/>
<text x="196.60" y="904.35" text-anchor="end" font-size="31.3">8.0</text>
<text x="212.60" y="1248.70" text-anchor="middle" font-size="31.3">0.0</text>
<path d="M276.56 1207.3V1198.8" stroke="#000" stroke-width="2"/>
<text x="274.60" y="1248.70" text-anchor="middle" font-size="31.3">2.0</text>
<path d="M339.62 1207.3V1198.8" stroke="#000" stroke-width="2"/>
<text x="338.30" y="1248.70" text-anchor="middle" font-size="31.3">4.0</text>
<path d="M402.68 1207.3V1198.8" stroke="#000" stroke-width="2"/>
<text x="402.30" y="1248.70" text-anchor="middle" font-size="31.3">6.0</text>
<path d="M465.74 1207.3V1198.8" stroke="#000" stroke-width="2"/>
<text x="467.10" y="1248.70" text-anchor="middle" font-size="31.3">8.0</text>
<text x="543.10" y="1248.70" text-anchor="middle" font-size="31.3">10.0</text>
<text x="365.25" y="871.50" text-anchor="middle" font-size="31" font-weight="bold">Str</text>
<path d="M276.56 931.33V943.09M269.76 931.33H283.36M269.76 943.09H283.36" stroke="#5a5a5a" stroke-width="1.8" fill="none"/>
<path d="M339.62 949.36V961.12M332.82 949.36H346.42M332.82 961.12H346.42" stroke="#5a5a5a" stroke-width="1.8" fill="none"/>
<path d="M402.68 980.72V996.40M395.88 980.72H409.48M395.88 996.40H409.48" stroke="#5a5a5a" stroke-width="1.8" fill="none"/>
<path d="M465.74 1045.01V1068.53M458.94 1045.01H472.54M458.94 1068.53H472.54" stroke="#5a5a5a" stroke-width="1.8" fill="none"/>
<path d="M528.80 1171.24V1198.68M522.00 1171.24H535.60M522.00 1198.68H535.60" stroke="#5a5a5a" stroke-width="1.8" fill="none"/>
<path d="M276.56 963.08V974.84M269.76 963.08H283.36M269.76 974.84H283.36" stroke="#5a5a5a" stroke-width="1.8" fill="none"/>
<path d="M339.62 982.68V1037.56M332.82 982.68H346.42M332.82 1037.56H346.42" stroke="#5a5a5a" stroke-width="1.8" fill="none"/>
<path d="M276.56 922.32V932.51M269.76 922.32H283.36M269.76 932.51H283.36" stroke="#5a5a5a" stroke-width="1.8" fill="none"/>
<path d="M339.62 937.60V947.01M332.82 937.60H346.42M332.82 947.01H346.42" stroke="#5a5a5a" stroke-width="1.8" fill="none"/>
<path d="M402.68 957.99V986.21M395.88 957.99H409.48M395.88 986.21H409.48" stroke="#5a5a5a" stroke-width="1.8" fill="none"/>
<path d="M465.74 1012.48V1065.00M458.94 1012.48H472.54M458.94 1065.00H472.54" stroke="#5a5a5a" stroke-width="1.8" fill="none"/>
<path d="M528.80 1173.20V1207.30M522.00 1173.20H535.60M522.00 1207.30H535.60" stroke="#5a5a5a" stroke-width="1.8" fill="none"/>
<path d="M276.56 933.29V942.70M269.76 933.29H283.36M269.76 942.70H283.36" stroke="#5a5a5a" stroke-width="1.8" fill="none"/>
<path d="M339.62 950.54V970.14M332.82 950.54H346.42M332.82 970.14H346.42" stroke="#5a5a5a" stroke-width="1.8" fill="none"/>
<path d="M402.68 987.00V1015.22M395.88 987.00H409.48M395.88 1015.22H409.48" stroke="#5a5a5a" stroke-width="1.8" fill="none"/>
<path d="M465.74 1039.92V1097.15M458.94 1039.92H472.54M458.94 1097.15H472.54" stroke="#5a5a5a" stroke-width="1.8" fill="none"/>
<path d="M528.80 1170.84V1207.30M522.00 1170.84H535.60M522.00 1207.30H535.60" stroke="#5a5a5a" stroke-width="1.8" fill="none"/>
<polyline points="213.50,925.84 276.56,937.21 339.62,955.24 402.68,988.56 465.74,1056.77 528.80,1184.96" fill="none" stroke="#000" stroke-width="3.4" stroke-linejoin="round"/>
<polyline points="213.50,942.31 276.56,968.96 339.62,1010.12 402.68,1202.99 465.74,1204.95 528.80,1205.34" fill="none" stroke="#000" stroke-width="3.4" stroke-linejoin="round"/>
<polyline points="213.50,923.10 276.56,927.41 339.62,942.31 402.68,972.10 465.74,1038.74 528.80,1192.80" fill="none" stroke="#000" stroke-width="3.4" stroke-linejoin="round" stroke-dasharray="7.4 8.7" stroke-linecap="round"/>
<polyline points="213.50,915.65 276.56,938.00 339.62,960.34 402.68,1001.11 465.74,1068.53 528.80,1190.44" fill="none" stroke="#000" stroke-width="3.4" stroke-linejoin="round" stroke-dasharray="7.4 8.7" stroke-linecap="round"/>
<path d="M213.50 934.51L220.40 948.51H206.60Z" fill="#fff" stroke="#000" stroke-width="2.3" stroke-linejoin="miter"/>
<path d="M276.56 961.16L283.46 975.16H269.66Z" fill="#fff" stroke="#000" stroke-width="2.3" stroke-linejoin="miter"/>
<path d="M339.62 1002.32L346.52 1016.32H332.72Z" fill="#fff" stroke="#000" stroke-width="2.3" stroke-linejoin="miter"/>
<path d="M402.68 1195.19L409.58 1209.19H395.78Z" fill="#fff" stroke="#000" stroke-width="2.3" stroke-linejoin="miter"/>
<path d="M465.74 1197.15L472.64 1211.15H458.84Z" fill="#fff" stroke="#000" stroke-width="2.3" stroke-linejoin="miter"/>
<path d="M528.80 1197.54L535.70 1211.54H521.90Z" fill="#fff" stroke="#000" stroke-width="2.3" stroke-linejoin="miter"/>
<path d="M213.50 915.30L220.40 929.30H206.60Z" fill="#fff" stroke="#000" stroke-width="2.3" stroke-linejoin="miter"/>
<path d="M276.56 919.61L283.46 933.61H269.66Z" fill="#fff" stroke="#000" stroke-width="2.3" stroke-linejoin="miter"/>
<path d="M339.62 934.51L346.52 948.51H332.72Z" fill="#fff" stroke="#000" stroke-width="2.3" stroke-linejoin="miter"/>
<path d="M402.68 964.30L409.58 978.30H395.78Z" fill="#fff" stroke="#000" stroke-width="2.3" stroke-linejoin="miter"/>
<path d="M465.74 1030.94L472.64 1044.94H458.84Z" fill="#fff" stroke="#000" stroke-width="2.3" stroke-linejoin="miter"/>
<path d="M528.80 1185.00L535.70 1199.00H521.90Z" fill="#fff" stroke="#000" stroke-width="2.3" stroke-linejoin="miter"/>
<circle cx="276.56" cy="937.21" r="5.3" fill="#000"/>
<circle cx="339.62" cy="955.24" r="5.3" fill="#000"/>
<circle cx="402.68" cy="988.56" r="5.3" fill="#000"/>
<circle cx="465.74" cy="1056.77" r="5.3" fill="#000"/>
<circle cx="528.80" cy="1184.96" r="5.3" fill="#000"/>
<circle cx="213.50" cy="915.65" r="5.3" fill="#000"/>
<circle cx="276.56" cy="938.00" r="5.3" fill="#000"/>
<circle cx="339.62" cy="960.34" r="5.3" fill="#000"/>
<circle cx="402.68" cy="1001.11" r="5.3" fill="#000"/>
<circle cx="465.74" cy="1068.53" r="5.3" fill="#000"/>
<circle cx="528.80" cy="1190.44" r="5.3" fill="#000"/>
<rect x="645.0" y="880.3" width="327.10" height="327.70" fill="none" stroke="#000" stroke-width="2"/>
<text x="628.30" y="1220.42" text-anchor="end" font-size="31.3">0.0</text>
<path d="M645.0 1129.30H653.5" stroke="#000" stroke-width="2"/>
<text x="628.30" y="1141.14" text-anchor="end" font-size="31.3">2.0</text>
<path d="M645.0 1050.60H653.5" stroke="#000" stroke-width="2"/>
<text x="628.30" y="1061.86" text-anchor="end" font-size="31.3">4.0</text>
<path d="M645.0 971.90H653.5" stroke="#000" stroke-width="2"/>
<text x="628.30" y="982.58" text-anchor="end" font-size="31.3">6.0</text>
<path d="M645.0 893.20H653.5" stroke="#000" stroke-width="2"/>
<text x="628.30" y="903.30" text-anchor="end" font-size="31.3">8.0</text>
<text x="646.40" y="1248.70" text-anchor="middle" font-size="31.3">0.0</text>
<path d="M750.07 1208.0V1199.5" stroke="#000" stroke-width="2"/>
<text x="749.90" y="1248.70" text-anchor="middle" font-size="31.3">0.2</text>
<path d="M855.13 1208.0V1199.5" stroke="#000" stroke-width="2"/>
<text x="853.90" y="1248.70" text-anchor="middle" font-size="31.3">0.4</text>
<text x="961.10" y="1248.70" text-anchor="middle" font-size="31.3">0.6</text>
<text x="796.20" y="870.50" text-anchor="middle" font-size="31" font-weight="bold">Tet</text>
<path d="M697.53 921.93V933.73M690.73 921.93H704.33M690.73 933.73H704.33" stroke="#5a5a5a" stroke-width="1.8" fill="none"/>
<path d="M750.07 971.90V1003.38M743.27 971.90H756.87M743.27 1003.38H756.87" stroke="#5a5a5a" stroke-width="1.8" fill="none"/>
<path d="M802.60 1059.26V1082.87M795.80 1059.26H809.40M795.80 1082.87H809.40" stroke="#5a5a5a" stroke-width="1.8" fill="none"/>
<path d="M855.13 1125.37V1147.40M848.33 1125.37H861.93M848.33 1147.40H861.93" stroke="#5a5a5a" stroke-width="1.8" fill="none"/>
<path d="M960.20 1172.19V1185.57M953.40 1172.19H967.00M953.40 1185.57H967.00" stroke="#5a5a5a" stroke-width="1.8" fill="none"/>
<path d="M697.53 956.95V982.13M690.73 956.95H704.33M690.73 982.13H704.33" stroke="#5a5a5a" stroke-width="1.8" fill="none"/>
<path d="M750.07 995.51V1038.80M743.27 995.51H756.87M743.27 1038.80H756.87" stroke="#5a5a5a" stroke-width="1.8" fill="none"/>
<path d="M802.60 1080.51V1100.18M795.80 1080.51H809.40M795.80 1100.18H809.40" stroke="#5a5a5a" stroke-width="1.8" fill="none"/>
<path d="M855.13 1141.11V1156.85M848.33 1141.11H861.93M848.33 1156.85H861.93" stroke="#5a5a5a" stroke-width="1.8" fill="none"/>
<path d="M697.53 1113.17V1147.01M690.73 1113.17H704.33M690.73 1147.01H704.33" stroke="#5a5a5a" stroke-width="1.8" fill="none"/>
<path d="M750.07 1147.01V1170.62M743.27 1147.01H756.87M743.27 1170.62H756.87" stroke="#5a5a5a" stroke-width="1.8" fill="none"/>
<path d="M802.60 1167.08V1178.88M795.80 1167.08H809.40M795.80 1178.88H809.40" stroke="#5a5a5a" stroke-width="1.8" fill="none"/>
<path d="M697.53 925.07V956.55M690.73 925.07H704.33M690.73 956.55H704.33" stroke="#5a5a5a" stroke-width="1.8" fill="none"/>
<path d="M750.07 1003.77V1027.38M743.27 1003.77H756.87M743.27 1027.38H756.87" stroke="#5a5a5a" stroke-width="1.8" fill="none"/>
<path d="M802.60 1077.75V1093.49M795.80 1077.75H809.40M795.80 1093.49H809.40" stroke="#5a5a5a" stroke-width="1.8" fill="none"/>
<path d="M855.13 1137.96V1153.70M848.33 1137.96H861.93M848.33 1153.70H861.93" stroke="#5a5a5a" stroke-width="1.8" fill="none"/>
<polyline points="645.00,915.24 697.53,927.83 750.07,987.64 802.60,1071.06 855.13,1136.38 960.20,1178.88" fill="none" stroke="#000" stroke-width="3.4" stroke-linejoin="round"/>
<polyline points="645.00,940.81 697.53,969.54 750.07,1017.15 802.60,1090.34 855.13,1148.97 960.20,1196.98" fill="none" stroke="#000" stroke-width="3.4" stroke-linejoin="round"/>
<polyline points="645.00,921.14 697.53,1130.09 750.07,1158.81 802.60,1172.98 855.13,1180.85 960.20,1204.85" fill="none" stroke="#000" stroke-width="3.4" stroke-linejoin="round" stroke-dasharray="7.4 8.7" stroke-linecap="round"/>
<polyline points="645.00,916.81 697.53,940.81 750.07,1015.58 802.60,1085.62 855.13,1145.83 960.20,1195.41" fill="none" stroke="#000" stroke-width="3.4" stroke-linejoin="round" stroke-dasharray="7.4 8.7" stroke-linecap="round"/>
<path d="M645.00 933.01L651.90 947.01H638.10Z" fill="#fff" stroke="#000" stroke-width="2.3" stroke-linejoin="miter"/>
<path d="M697.53 961.74L704.43 975.74H690.63Z" fill="#fff" stroke="#000" stroke-width="2.3" stroke-linejoin="miter"/>
<path d="M750.07 1009.35L756.97 1023.35H743.17Z" fill="#fff" stroke="#000" stroke-width="2.3" stroke-linejoin="miter"/>
<path d="M802.60 1082.54L809.50 1096.54H795.70Z" fill="#fff" stroke="#000" stroke-width="2.3" stroke-linejoin="miter"/>
<path d="M855.13 1141.17L862.03 1155.17H848.23Z" fill="#fff" stroke="#000" stroke-width="2.3" stroke-linejoin="miter"/>
<path d="M960.20 1189.18L967.10 1203.18H953.30Z" fill="#fff" stroke="#000" stroke-width="2.3" stroke-linejoin="miter"/>
<path d="M645.00 913.34L651.90 927.34H638.10Z" fill="#fff" stroke="#000" stroke-width="2.3" stroke-linejoin="miter"/>
<path d="M697.53 1122.29L704.43 1136.29H690.63Z" fill="#fff" stroke="#000" stroke-width="2.3" stroke-linejoin="miter"/>
<path d="M750.07 1151.01L756.97 1165.01H743.17Z" fill="#fff" stroke="#000" stroke-width="2.3" stroke-linejoin="miter"/>
<path d="M802.60 1165.18L809.50 1179.18H795.70Z" fill="#fff" stroke="#000" stroke-width="2.3" stroke-linejoin="miter"/>
<path d="M855.13 1173.05L862.03 1187.05H848.23Z" fill="#fff" stroke="#000" stroke-width="2.3" stroke-linejoin="miter"/>
<path d="M960.20 1197.05L967.10 1211.05H953.30Z" fill="#fff" stroke="#000" stroke-width="2.3" stroke-linejoin="miter"/>
<circle cx="645.00" cy="915.24" r="5.3" fill="#000"/>
<circle cx="697.53" cy="927.83" r="5.3" fill="#000"/>
<circle cx="750.07" cy="987.64" r="5.3" fill="#000"/>
<circle cx="802.60" cy="1071.06" r="5.3" fill="#000"/>
<circle cx="855.13" cy="1136.38" r="5.3" fill="#000"/>
<circle cx="960.20" cy="1178.88" r="5.3" fill="#000"/>
<circle cx="645.00" cy="916.81" r="5.3" fill="#000"/>
<circle cx="697.53" cy="940.81" r="5.3" fill="#000"/>
<circle cx="750.07" cy="1015.58" r="5.3" fill="#000"/>
<circle cx="802.60" cy="1085.62" r="5.3" fill="#000"/>
<circle cx="855.13" cy="1145.83" r="5.3" fill="#000"/>
<circle cx="960.20" cy="1195.41" r="5.3" fill="#000"/>
<use href="#ast" x="697.70" y="1177.00"/>
<rect x="1073.6" y="879.6" width="328.20" height="327.60" fill="none" stroke="#000" stroke-width="2"/>
<text x="1057.80" y="1220.42" text-anchor="end" font-size="31.3">0.0</text>
<path d="M1073.6 1128.42H1082.1" stroke="#000" stroke-width="2"/>
<text x="1057.80" y="1141.14" text-anchor="end" font-size="31.3">2.0</text>
<path d="M1073.6 1049.64H1082.1" stroke="#000" stroke-width="2"/>
<text x="1057.80" y="1061.86" text-anchor="end" font-size="31.3">4.0</text>
<path d="M1073.6 970.86H1082.1" stroke="#000" stroke-width="2"/>
<text x="1057.80" y="982.58" text-anchor="end" font-size="31.3">6.0</text>
<path d="M1073.6 892.08H1082.1" stroke="#000" stroke-width="2"/>
<text x="1057.80" y="903.30" text-anchor="end" font-size="31.3">8.0</text>
<text x="1073.50" y="1248.70" text-anchor="middle" font-size="31.3">0.0</text>
<path d="M1136.78 1207.2V1198.7" stroke="#000" stroke-width="2"/>
<text x="1136.90" y="1248.70" text-anchor="middle" font-size="31.3">0.6</text>
<path d="M1199.96 1207.2V1198.7" stroke="#000" stroke-width="2"/>
<text x="1200.40" y="1248.70" text-anchor="middle" font-size="31.3">1.2</text>
<path d="M1263.14 1207.2V1198.7" stroke="#000" stroke-width="2"/>
<text x="1266.50" y="1248.70" text-anchor="middle" font-size="31.3">1.8</text>
<path d="M1326.32 1207.2V1198.7" stroke="#000" stroke-width="2"/>
<text x="1324.80" y="1248.70" text-anchor="middle" font-size="31.3">2.4</text>
<text x="1388.20" y="1248.70" text-anchor="middle" font-size="31.3">3.0</text>
<text x="1224.70" y="871.00" text-anchor="middle" font-size="31" font-weight="bold">Chl</text>
<path d="M1136.78 1014.98V1034.67M1129.98 1014.98H1143.58M1129.98 1034.67H1143.58" stroke="#5a5a5a" stroke-width="1.8" fill="none"/>
<path d="M1199.96 1107.15V1130.78M1193.16 1107.15H1206.76M1193.16 1130.78H1206.76" stroke="#5a5a5a" stroke-width="1.8" fill="none"/>
<path d="M1263.14 1147.72V1171.36M1256.34 1147.72H1269.94M1256.34 1171.36H1269.94" stroke="#5a5a5a" stroke-width="1.8" fill="none"/>
<path d="M1326.32 1172.54V1196.17M1319.52 1172.54H1333.12M1319.52 1196.17H1333.12" stroke="#5a5a5a" stroke-width="1.8" fill="none"/>
<path d="M1136.78 1042.55V1058.31M1129.98 1042.55H1143.58M1129.98 1058.31H1143.58" stroke="#5a5a5a" stroke-width="1.8" fill="none"/>
<path d="M1199.96 1123.30V1139.06M1193.16 1123.30H1206.76M1193.16 1139.06H1206.76" stroke="#5a5a5a" stroke-width="1.8" fill="none"/>
<path d="M1263.14 1161.51V1185.14M1256.34 1161.51H1269.94M1256.34 1185.14H1269.94" stroke="#5a5a5a" stroke-width="1.8" fill="none"/>
<path d="M1326.32 1185.93V1201.69M1319.52 1185.93H1333.12M1319.52 1201.69H1333.12" stroke="#5a5a5a" stroke-width="1.8" fill="none"/>
<path d="M1136.78 1094.15V1121.72M1129.98 1094.15H1143.58M1129.98 1121.72H1143.58" stroke="#5a5a5a" stroke-width="1.8" fill="none"/>
<path d="M1136.78 1019.70V1043.34M1129.98 1019.70H1143.58M1129.98 1043.34H1143.58" stroke="#5a5a5a" stroke-width="1.8" fill="none"/>
<path d="M1199.96 1096.12V1119.75M1193.16 1096.12H1206.76M1193.16 1119.75H1206.76" stroke="#5a5a5a" stroke-width="1.8" fill="none"/>
<path d="M1263.14 1146.15V1169.78M1256.34 1146.15H1269.94M1256.34 1169.78H1269.94" stroke="#5a5a5a" stroke-width="1.8" fill="none"/>
<path d="M1326.32 1182.78V1198.53M1319.52 1182.78H1333.12M1319.52 1198.53H1333.12" stroke="#5a5a5a" stroke-width="1.8" fill="none"/>
<polyline points="1073.60,912.96 1136.78,1024.82 1199.96,1118.97 1263.14,1159.54 1326.32,1184.35 1389.50,1200.11" fill="none" stroke="#000" stroke-width="3.4" stroke-linejoin="round"/>
<polyline points="1073.60,939.74 1136.78,1050.43 1199.96,1131.18 1263.14,1173.32 1326.32,1193.81 1389.50,1203.26" fill="none" stroke="#000" stroke-width="3.4" stroke-linejoin="round"/>
<polyline points="1073.60,920.83 1136.78,1107.94 1199.96,1196.96 1263.14,1206.02 1326.32,1206.02 1389.50,1206.02" fill="none" stroke="#000" stroke-width="3.4" stroke-linejoin="round" stroke-dasharray="7.4 8.7" stroke-linecap="round"/>
<polyline points="1073.60,914.53 1136.78,1031.52 1199.96,1107.94 1263.14,1157.96 1326.32,1190.66 1389.50,1201.69" fill="none" stroke="#000" stroke-width="3.4" stroke-linejoin="round" stroke-dasharray="7.4 8.7" stroke-linecap="round"/>
<path d="M1073.60 931.94L1080.50 945.94H1066.70Z" fill="#fff" stroke="#000" stroke-width="2.3" stroke-linejoin="miter"/>
<path d="M1136.78 1042.63L1143.68 1056.63H1129.88Z" fill="#fff" stroke="#000" stroke-width="2.3" stroke-linejoin="miter"/>
<path d="M1199.96 1123.38L1206.86 1137.38H1193.06Z" fill="#fff" stroke="#000" stroke-width="2.3" stroke-linejoin="miter"/>
<path d="M1263.14 1165.52L1270.04 1179.52H1256.24Z" fill="#fff" stroke="#000" stroke-width="2.3" stroke-linejoin="miter"/>
<path d="M1326.32 1186.01L1333.22 1200.01H1319.42Z" fill="#fff" stroke="#000" stroke-width="2.3" stroke-linejoin="miter"/>
<path d="M1389.50 1195.46L1396.40 1209.46H1382.60Z" fill="#fff" stroke="#000" stroke-width="2.3" stroke-linejoin="miter"/>
<path d="M1073.60 913.03L1080.50 927.03H1066.70Z" fill="#fff" stroke="#000" stroke-width="2.3" stroke-linejoin="miter"/>
<path d="M1136.78 1100.14L1143.68 1114.14H1129.88Z" fill="#fff" stroke="#000" stroke-width="2.3" stroke-linejoin="miter"/>
<path d="M1199.96 1189.16L1206.86 1203.16H1193.06Z" fill="#fff" stroke="#000" stroke-width="2.3" stroke-linejoin="miter"/>
<path d="M1263.14 1198.22L1270.04 1212.22H1256.24Z" fill="#fff" stroke="#000" stroke-width="2.3" stroke-linejoin="miter"/>
<path d="M1326.32 1198.22L1333.22 1212.22H1319.42Z" fill="#fff" stroke="#000" stroke-width="2.3" stroke-linejoin="miter"/>
<path d="M1389.50 1198.22L1396.40 1212.22H1382.60Z" fill="#fff" stroke="#000" stroke-width="2.3" stroke-linejoin="miter"/>
<circle cx="1073.60" cy="912.96" r="5.3" fill="#000"/>
<circle cx="1136.78" cy="1024.82" r="5.3" fill="#000"/>
<circle cx="1199.96" cy="1118.97" r="5.3" fill="#000"/>
<circle cx="1263.14" cy="1159.54" r="5.3" fill="#000"/>
<circle cx="1326.32" cy="1184.35" r="5.3" fill="#000"/>
<circle cx="1389.50" cy="1200.11" r="5.3" fill="#000"/>
<circle cx="1073.60" cy="914.53" r="5.3" fill="#000"/>
<circle cx="1136.78" cy="1031.52" r="5.3" fill="#000"/>
<circle cx="1199.96" cy="1107.94" r="5.3" fill="#000"/>
<circle cx="1263.14" cy="1157.96" r="5.3" fill="#000"/>
<circle cx="1326.32" cy="1190.66" r="5.3" fill="#000"/>
<circle cx="1389.50" cy="1201.69" r="5.3" fill="#000"/>
<use href="#ast" x="1136.60" y="1148.30"/>
<rect x="212.5" y="1314.7" width="327.20" height="327.20" fill="none" stroke="#000" stroke-width="2"/>
<text x="197.70" y="1655.87" text-anchor="end" font-size="31.3">0.0</text>
<path d="M212.5 1563.16H221.0" stroke="#000" stroke-width="2"/>
<text x="197.70" y="1576.59" text-anchor="end" font-size="31.3">2.0</text>
<path d="M212.5 1484.42H221.0" stroke="#000" stroke-width="2"/>
<text x="197.70" y="1497.31" text-anchor="end" font-size="31.3">4.0</text>
<path d="M212.5 1405.68H221.0" stroke="#000" stroke-width="2"/>
<text x="197.70" y="1418.03" text-anchor="end" font-size="31.3">6.0</text>
<path d="M212.5 1326.94H221.0" stroke="#000" stroke-width="2"/>
<text x="197.70" y="1338.75" text-anchor="end" font-size="31.3">8.0</text>
<text x="213.80" y="1682.20" text-anchor="middle" font-size="31.3">0.0</text>
<path d="M275.36 1641.9V1633.4" stroke="#000" stroke-width="2"/>
<text x="274.60" y="1682.20" text-anchor="middle" font-size="31.3">2.5</text>
<path d="M338.22 1641.9V1633.4" stroke="#000" stroke-width="2"/>
<text x="338.30" y="1682.20" text-anchor="middle" font-size="31.3">5.0</text>
<path d="M401.08 1641.9V1633.4" stroke="#000" stroke-width="2"/>
<text x="404.90" y="1682.20" text-anchor="middle" font-size="31.3">7.5</text>
<path d="M463.94 1641.9V1633.4" stroke="#000" stroke-width="2"/>
<text x="466.10" y="1682.20" text-anchor="middle" font-size="31.3">10.0</text>
<text x="532.30" y="1682.20" text-anchor="middle" font-size="31.3">12.5</text>
<text x="364.30" y="1304.30" text-anchor="middle" font-size="31" font-weight="bold">Par</text>
<path d="M275.36 1360.80V1376.55M268.56 1360.80H282.16M268.56 1376.55H282.16" stroke="#5a5a5a" stroke-width="1.8" fill="none"/>
<path d="M338.22 1368.67V1404.11M331.42 1368.67H345.02M331.42 1404.11H345.02" stroke="#5a5a5a" stroke-width="1.8" fill="none"/>
<path d="M401.08 1408.04V1467.10M394.28 1408.04H407.88M394.28 1467.10H407.88" stroke="#5a5a5a" stroke-width="1.8" fill="none"/>
<path d="M463.94 1446.23V1509.22M457.14 1446.23H470.74M457.14 1509.22H470.74" stroke="#5a5a5a" stroke-width="1.8" fill="none"/>
<path d="M275.36 1390.72V1422.22M268.56 1390.72H282.16M268.56 1422.22H282.16" stroke="#5a5a5a" stroke-width="1.8" fill="none"/>
<path d="M338.22 1452.92V1511.98M331.42 1452.92H345.02M331.42 1511.98H345.02" stroke="#5a5a5a" stroke-width="1.8" fill="none"/>
<path d="M275.36 1344.26V1375.76M268.56 1344.26H282.16M268.56 1375.76H282.16" stroke="#5a5a5a" stroke-width="1.8" fill="none"/>
<path d="M338.22 1367.88V1395.44M331.42 1367.88H345.02M331.42 1395.44H345.02" stroke="#5a5a5a" stroke-width="1.8" fill="none"/>
<path d="M401.08 1391.90V1454.89M394.28 1391.90H407.88M394.28 1454.89H407.88" stroke="#5a5a5a" stroke-width="1.8" fill="none"/>
<path d="M463.94 1451.74V1522.61M457.14 1451.74H470.74M457.14 1522.61H470.74" stroke="#5a5a5a" stroke-width="1.8" fill="none"/>
<path d="M275.36 1358.83V1374.58M268.56 1358.83H282.16M268.56 1374.58H282.16" stroke="#5a5a5a" stroke-width="1.8" fill="none"/>
<path d="M338.22 1376.15V1399.77M331.42 1376.15H345.02M331.42 1399.77H345.02" stroke="#5a5a5a" stroke-width="1.8" fill="none"/>
<path d="M401.08 1411.59V1466.70M394.28 1411.59H407.88M394.28 1466.70H407.88" stroke="#5a5a5a" stroke-width="1.8" fill="none"/>
<path d="M463.94 1478.12V1517.49M457.14 1478.12H470.74M457.14 1517.49H470.74" stroke="#5a5a5a" stroke-width="1.8" fill="none"/>
<polyline points="212.50,1350.17 275.36,1368.67 338.22,1386.39 401.08,1437.57 463.94,1477.73 526.80,1638.75" fill="none" stroke="#000" stroke-width="3.4" stroke-linejoin="round"/>
<polyline points="212.50,1375.37 275.36,1406.47 338.22,1482.45 401.08,1640.33 463.94,1640.33 526.80,1640.72" fill="none" stroke="#000" stroke-width="3.4" stroke-linejoin="round"/>
<polyline points="212.50,1356.86 275.36,1360.01 338.22,1381.66 401.08,1423.40 463.94,1487.18 526.80,1640.33" fill="none" stroke="#000" stroke-width="3.4" stroke-linejoin="round" stroke-dasharray="7.4 8.7" stroke-linecap="round"/>
<polyline points="212.50,1351.35 275.36,1366.70 338.22,1387.96 401.08,1439.14 463.94,1497.81 526.80,1638.75" fill="none" stroke="#000" stroke-width="3.4" stroke-linejoin="round" stroke-dasharray="7.4 8.7" stroke-linecap="round"/>
<path d="M212.50 1367.57L219.40 1381.57H205.60Z" fill="#fff" stroke="#000" stroke-width="2.3" stroke-linejoin="miter"/>
<path d="M275.36 1398.67L282.26 1412.67H268.46Z" fill="#fff" stroke="#000" stroke-width="2.3" stroke-linejoin="miter"/>
<path d="M338.22 1474.65L345.12 1488.65H331.32Z" fill="#fff" stroke="#000" stroke-width="2.3" stroke-linejoin="miter"/>
<path d="M401.08 1632.53L407.98 1646.53H394.18Z" fill="#fff" stroke="#000" stroke-width="2.3" stroke-linejoin="miter"/>
<path d="M463.94 1632.53L470.84 1646.53H457.04Z" fill="#fff" stroke="#000" stroke-width="2.3" stroke-linejoin="miter"/>
<path d="M526.80 1632.92L533.70 1646.92H519.90Z" fill="#fff" stroke="#000" stroke-width="2.3" stroke-linejoin="miter"/>
<path d="M212.50 1349.06L219.40 1363.06H205.60Z" fill="#fff" stroke="#000" stroke-width="2.3" stroke-linejoin="miter"/>
<path d="M275.36 1352.21L282.26 1366.21H268.46Z" fill="#fff" stroke="#000" stroke-width="2.3" stroke-linejoin="miter"/>
<path d="M338.22 1373.86L345.12 1387.86H331.32Z" fill="#fff" stroke="#000" stroke-width="2.3" stroke-linejoin="miter"/>
<path d="M401.08 1415.60L407.98 1429.60H394.18Z" fill="#fff" stroke="#000" stroke-width="2.3" stroke-linejoin="miter"/>
<path d="M463.94 1479.38L470.84 1493.38H457.04Z" fill="#fff" stroke="#000" stroke-width="2.3" stroke-linejoin="miter"/>
<path d="M526.80 1632.53L533.70 1646.53H519.90Z" fill="#fff" stroke="#000" stroke-width="2.3" stroke-linejoin="miter"/>
<circle cx="212.50" cy="1350.17" r="5.3" fill="#000"/>
<circle cx="275.36" cy="1368.67" r="5.3" fill="#000"/>
<circle cx="338.22" cy="1386.39" r="5.3" fill="#000"/>
<circle cx="401.08" cy="1437.57" r="5.3" fill="#000"/>
<circle cx="463.94" cy="1477.73" r="5.3" fill="#000"/>
<circle cx="526.80" cy="1638.75" r="5.3" fill="#000"/>
<circle cx="212.50" cy="1351.35" r="5.3" fill="#000"/>
<circle cx="275.36" cy="1366.70" r="5.3" fill="#000"/>
<circle cx="338.22" cy="1387.96" r="5.3" fill="#000"/>
<circle cx="401.08" cy="1439.14" r="5.3" fill="#000"/>
<circle cx="463.94" cy="1497.81" r="5.3" fill="#000"/>
<circle cx="526.80" cy="1638.75" r="5.3" fill="#000"/>
<use href="#ast" x="338.60" y="1534.80"/>
<rect x="643.0" y="1312.8" width="327.10" height="327.50" fill="none" stroke="#000" stroke-width="2"/>
<text x="627.70" y="1653.67" text-anchor="end" font-size="31.3">0.0</text>
<path d="M643.0 1561.60H651.5" stroke="#000" stroke-width="2"/>
<text x="627.70" y="1574.39" text-anchor="end" font-size="31.3">2.0</text>
<path d="M643.0 1482.90H651.5" stroke="#000" stroke-width="2"/>
<text x="627.70" y="1495.11" text-anchor="end" font-size="31.3">4.0</text>
<path d="M643.0 1404.20H651.5" stroke="#000" stroke-width="2"/>
<text x="627.70" y="1415.83" text-anchor="end" font-size="31.3">6.0</text>
<path d="M643.0 1325.50H651.5" stroke="#000" stroke-width="2"/>
<text x="627.70" y="1336.55" text-anchor="end" font-size="31.3">8.0</text>
<text x="643.50" y="1682.20" text-anchor="middle" font-size="31.3">0.0</text>
<path d="M747.67 1640.3V1631.8" stroke="#000" stroke-width="2"/>
<text x="747.80" y="1682.20" text-anchor="middle" font-size="31.3">0.2</text>
<path d="M852.33 1640.3V1631.8" stroke="#000" stroke-width="2"/>
<text x="852.70" y="1682.20" text-anchor="middle" font-size="31.3">0.4</text>
<text x="959.20" y="1682.20" text-anchor="middle" font-size="31.3">0.6</text>
<text x="795.90" y="1302.80" text-anchor="middle" font-size="31" font-weight="bold">Dox</text>
<path d="M695.33 1345.57V1392.79M688.53 1345.57H702.13M688.53 1392.79H702.13" stroke="#5a5a5a" stroke-width="1.8" fill="none"/>
<path d="M747.67 1411.28V1442.76M740.87 1411.28H754.47M740.87 1442.76H754.47" stroke="#5a5a5a" stroke-width="1.8" fill="none"/>
<path d="M800.00 1481.33V1501.00M793.20 1481.33H806.80M793.20 1501.00H806.80" stroke="#5a5a5a" stroke-width="1.8" fill="none"/>
<path d="M852.33 1541.53V1566.72M845.53 1541.53H859.13M845.53 1566.72H859.13" stroke="#5a5a5a" stroke-width="1.8" fill="none"/>
<path d="M695.33 1423.88V1439.62M688.53 1423.88H702.13M688.53 1439.62H702.13" stroke="#5a5a5a" stroke-width="1.8" fill="none"/>
<path d="M747.67 1450.63V1478.18M740.87 1450.63H754.47M740.87 1478.18H754.47" stroke="#5a5a5a" stroke-width="1.8" fill="none"/>
<path d="M800.00 1500.21V1512.02M793.20 1500.21H806.80M793.20 1512.02H806.80" stroke="#5a5a5a" stroke-width="1.8" fill="none"/>
<path d="M852.33 1582.06V1597.80M845.53 1582.06H859.13M845.53 1597.80H859.13" stroke="#5a5a5a" stroke-width="1.8" fill="none"/>
<path d="M695.33 1570.65V1590.33M688.53 1570.65H702.13M688.53 1590.33H702.13" stroke="#5a5a5a" stroke-width="1.8" fill="none"/>
<path d="M747.67 1583.24V1598.98M740.87 1583.24H754.47M740.87 1598.98H754.47" stroke="#5a5a5a" stroke-width="1.8" fill="none"/>
<path d="M800.00 1592.69V1624.17M793.20 1592.69H806.80M793.20 1624.17H806.80" stroke="#5a5a5a" stroke-width="1.8" fill="none"/>
<path d="M852.33 1615.90V1625.35M845.53 1615.90H859.13M845.53 1625.35H859.13" stroke="#5a5a5a" stroke-width="1.8" fill="none"/>
<path d="M695.33 1374.69V1394.36M688.53 1374.69H702.13M688.53 1394.36H702.13" stroke="#5a5a5a" stroke-width="1.8" fill="none"/>
<path d="M747.67 1423.09V1446.70M740.87 1423.09H754.47M740.87 1446.70H754.47" stroke="#5a5a5a" stroke-width="1.8" fill="none"/>
<path d="M800.00 1495.10V1510.84M793.20 1495.10H806.80M793.20 1510.84H806.80" stroke="#5a5a5a" stroke-width="1.8" fill="none"/>
<path d="M852.33 1556.88V1580.49M845.53 1556.88H859.13M845.53 1580.49H859.13" stroke="#5a5a5a" stroke-width="1.8" fill="none"/>
<polyline points="643.00,1348.72 695.33,1369.18 747.67,1427.02 800.00,1491.16 852.33,1554.12 957.00,1625.35" fill="none" stroke="#000" stroke-width="3.4" stroke-linejoin="round"/>
<polyline points="643.00,1374.29 695.33,1431.74 747.67,1464.41 800.00,1506.12 852.33,1589.93 957.00,1636.37" fill="none" stroke="#000" stroke-width="3.4" stroke-linejoin="round"/>
<polyline points="643.00,1354.62 695.33,1580.49 747.67,1591.11 800.00,1608.43 852.33,1620.62 957.00,1637.94" fill="none" stroke="#000" stroke-width="3.4" stroke-linejoin="round" stroke-dasharray="7.4 8.7" stroke-linecap="round"/>
<polyline points="643.00,1349.50 695.33,1384.52 747.67,1434.89 800.00,1502.97 852.33,1568.68 957.00,1626.92" fill="none" stroke="#000" stroke-width="3.4" stroke-linejoin="round" stroke-dasharray="7.4 8.7" stroke-linecap="round"/>
<path d="M643.00 1366.49L649.90 1380.49H636.10Z" fill="#fff" stroke="#000" stroke-width="2.3" stroke-linejoin="miter"/>
<path d="M695.33 1423.94L702.23 1437.94H688.43Z" fill="#fff" stroke="#000" stroke-width="2.3" stroke-linejoin="miter"/>
<path d="M747.67 1456.61L754.57 1470.61H740.77Z" fill="#fff" stroke="#000" stroke-width="2.3" stroke-linejoin="miter"/>
<path d="M800.00 1498.32L806.90 1512.32H793.10Z" fill="#fff" stroke="#000" stroke-width="2.3" stroke-linejoin="miter"/>
<path d="M852.33 1582.13L859.23 1596.13H845.43Z" fill="#fff" stroke="#000" stroke-width="2.3" stroke-linejoin="miter"/>
<path d="M957.00 1628.57L963.90 1642.57H950.10Z" fill="#fff" stroke="#000" stroke-width="2.3" stroke-linejoin="miter"/>
<path d="M643.00 1346.82L649.90 1360.82H636.10Z" fill="#fff" stroke="#000" stroke-width="2.3" stroke-linejoin="miter"/>
<path d="M695.33 1572.69L702.23 1586.69H688.43Z" fill="#fff" stroke="#000" stroke-width="2.3" stroke-linejoin="miter"/>
<path d="M747.67 1583.31L754.57 1597.31H740.77Z" fill="#fff" stroke="#000" stroke-width="2.3" stroke-linejoin="miter"/>
<path d="M800.00 1600.63L806.90 1614.63H793.10Z" fill="#fff" stroke="#000" stroke-width="2.3" stroke-linejoin="miter"/>
<path d="M852.33 1612.83L859.23 1626.83H845.43Z" fill="#fff" stroke="#000" stroke-width="2.3" stroke-linejoin="miter"/>
<path d="M957.00 1630.14L963.90 1644.14H950.10Z" fill="#fff" stroke="#000" stroke-width="2.3" stroke-linejoin="miter"/>
<circle cx="643.00" cy="1348.72" r="5.3" fill="#000"/>
<circle cx="695.33" cy="1369.18" r="5.3" fill="#000"/>
<circle cx="747.67" cy="1427.02" r="5.3" fill="#000"/>
<circle cx="800.00" cy="1491.16" r="5.3" fill="#000"/>
<circle cx="852.33" cy="1554.12" r="5.3" fill="#000"/>
<circle cx="957.00" cy="1625.35" r="5.3" fill="#000"/>
<circle cx="643.00" cy="1349.50" r="5.3" fill="#000"/>
<circle cx="695.33" cy="1384.52" r="5.3" fill="#000"/>
<circle cx="747.67" cy="1434.89" r="5.3" fill="#000"/>
<circle cx="800.00" cy="1502.97" r="5.3" fill="#000"/>
<circle cx="852.33" cy="1568.68" r="5.3" fill="#000"/>
<circle cx="957.00" cy="1626.92" r="5.3" fill="#000"/>
<use href="#ast" x="695.00" y="1617.00"/>
<rect x="1074.5" y="1312.8" width="325.30" height="327.10" fill="none" stroke="#000" stroke-width="2"/>
<text x="1058.60" y="1654.32" text-anchor="end" font-size="31.3">0.0</text>
<path d="M1074.5 1561.40H1083.0" stroke="#000" stroke-width="2"/>
<text x="1058.60" y="1575.04" text-anchor="end" font-size="31.3">2.0</text>
<path d="M1074.5 1482.90H1083.0" stroke="#000" stroke-width="2"/>
<text x="1058.60" y="1495.76" text-anchor="end" font-size="31.3">4.0</text>
<path d="M1074.5 1404.40H1083.0" stroke="#000" stroke-width="2"/>
<text x="1058.60" y="1416.48" text-anchor="end" font-size="31.3">6.0</text>
<path d="M1074.5 1325.90H1083.0" stroke="#000" stroke-width="2"/>
<text x="1058.60" y="1337.20" text-anchor="end" font-size="31.3">8.0</text>
<text x="1074.20" y="1682.20" text-anchor="middle" font-size="31.3">0.0</text>
<path d="M1152.58 1639.9V1631.4" stroke="#000" stroke-width="2"/>
<text x="1153.10" y="1682.20" text-anchor="middle" font-size="31.3">1.0</text>
<path d="M1230.65 1639.9V1631.4" stroke="#000" stroke-width="2"/>
<text x="1233.50" y="1682.20" text-anchor="middle" font-size="31.3">2.0</text>
<path d="M1308.72 1639.9V1631.4" stroke="#000" stroke-width="2"/>
<text x="1313.90" y="1682.20" text-anchor="middle" font-size="31.3">3.0</text>
<text x="1389.90" y="1682.20" text-anchor="middle" font-size="31.3">4.0</text>
<text x="1225.50" y="1302.80" text-anchor="middle" font-size="31" font-weight="bold">Ffc</text>
<path d="M1113.54 1405.97V1421.67M1106.74 1405.97H1120.34M1106.74 1421.67H1120.34" stroke="#5a5a5a" stroke-width="1.8" fill="none"/>
<path d="M1152.58 1444.83V1468.38M1145.78 1444.83H1159.38M1145.78 1468.38H1159.38" stroke="#5a5a5a" stroke-width="1.8" fill="none"/>
<path d="M1230.65 1536.67V1552.37M1223.85 1536.67H1237.45M1223.85 1552.37H1237.45" stroke="#5a5a5a" stroke-width="1.8" fill="none"/>
<path d="M1308.72 1589.66V1601.44M1301.92 1589.66H1315.52M1301.92 1601.44H1315.52" stroke="#5a5a5a" stroke-width="1.8" fill="none"/>
<path d="M1386.80 1615.17V1630.87M1380.00 1615.17H1393.60M1380.00 1630.87H1393.60" stroke="#5a5a5a" stroke-width="1.8" fill="none"/>
<path d="M1113.54 1420.88V1436.59M1106.74 1420.88H1120.34M1106.74 1436.59H1120.34" stroke="#5a5a5a" stroke-width="1.8" fill="none"/>
<path d="M1152.58 1459.35V1475.05M1145.78 1459.35H1159.38M1145.78 1475.05H1159.38" stroke="#5a5a5a" stroke-width="1.8" fill="none"/>
<path d="M1230.65 1546.49V1558.26M1223.85 1546.49H1237.45M1223.85 1558.26H1237.45" stroke="#5a5a5a" stroke-width="1.8" fill="none"/>
<path d="M1113.54 1440.12V1455.82M1106.74 1440.12H1120.34M1106.74 1455.82H1120.34" stroke="#5a5a5a" stroke-width="1.8" fill="none"/>
<path d="M1152.58 1545.31V1568.86M1145.78 1545.31H1159.38M1145.78 1568.86H1159.38" stroke="#5a5a5a" stroke-width="1.8" fill="none"/>
<path d="M1113.54 1408.33V1424.03M1106.74 1408.33H1120.34M1106.74 1424.03H1120.34" stroke="#5a5a5a" stroke-width="1.8" fill="none"/>
<path d="M1152.58 1448.36V1467.99M1145.78 1448.36H1159.38M1145.78 1467.99H1159.38" stroke="#5a5a5a" stroke-width="1.8" fill="none"/>
<path d="M1230.65 1535.10V1550.80M1223.85 1535.10H1237.45M1223.85 1550.80H1237.45" stroke="#5a5a5a" stroke-width="1.8" fill="none"/>
<path d="M1308.72 1589.27V1601.04M1301.92 1589.27H1315.52M1301.92 1601.04H1315.52" stroke="#5a5a5a" stroke-width="1.8" fill="none"/>
<polyline points="1074.50,1348.27 1113.54,1413.82 1152.58,1456.60 1230.65,1544.52 1308.72,1595.55 1386.80,1623.02" fill="none" stroke="#000" stroke-width="3.4" stroke-linejoin="round"/>
<polyline points="1074.50,1374.57 1113.54,1428.74 1152.58,1467.20 1230.65,1552.37 1308.72,1600.26 1386.80,1637.55" fill="none" stroke="#000" stroke-width="3.4" stroke-linejoin="round"/>
<polyline points="1074.50,1354.55 1113.54,1447.97 1152.58,1557.08 1230.65,1634.41 1308.72,1638.72 1386.80,1638.72" fill="none" stroke="#000" stroke-width="3.4" stroke-linejoin="round" stroke-dasharray="7.4 8.7" stroke-linecap="round"/>
<polyline points="1074.50,1349.84 1113.54,1416.18 1152.58,1458.17 1230.65,1542.95 1308.72,1595.16 1386.80,1629.70" fill="none" stroke="#000" stroke-width="3.4" stroke-linejoin="round" stroke-dasharray="7.4 8.7" stroke-linecap="round"/>
<path d="M1074.50 1366.77L1081.40 1380.77H1067.60Z" fill="#fff" stroke="#000" stroke-width="2.3" stroke-linejoin="miter"/>
<path d="M1113.54 1420.94L1120.44 1434.94H1106.64Z" fill="#fff" stroke="#000" stroke-width="2.3" stroke-linejoin="miter"/>
<path d="M1152.58 1459.40L1159.48 1473.40H1145.67Z" fill="#fff" stroke="#000" stroke-width="2.3" stroke-linejoin="miter"/>
<path d="M1230.65 1544.57L1237.55 1558.57H1223.75Z" fill="#fff" stroke="#000" stroke-width="2.3" stroke-linejoin="miter"/>
<path d="M1308.72 1592.46L1315.62 1606.46H1301.82Z" fill="#fff" stroke="#000" stroke-width="2.3" stroke-linejoin="miter"/>
<path d="M1386.80 1629.75L1393.70 1643.75H1379.90Z" fill="#fff" stroke="#000" stroke-width="2.3" stroke-linejoin="miter"/>
<path d="M1074.50 1346.75L1081.40 1360.75H1067.60Z" fill="#fff" stroke="#000" stroke-width="2.3" stroke-linejoin="miter"/>
<path d="M1113.54 1440.17L1120.44 1454.17H1106.64Z" fill="#fff" stroke="#000" stroke-width="2.3" stroke-linejoin="miter"/>
<path d="M1152.58 1549.28L1159.48 1563.28H1145.67Z" fill="#fff" stroke="#000" stroke-width="2.3" stroke-linejoin="miter"/>
<path d="M1230.65 1626.61L1237.55 1640.61H1223.75Z" fill="#fff" stroke="#000" stroke-width="2.3" stroke-linejoin="miter"/>
<path d="M1308.72 1630.92L1315.62 1644.92H1301.82Z" fill="#fff" stroke="#000" stroke-width="2.3" stroke-linejoin="miter"/>
<path d="M1386.80 1630.92L1393.70 1644.92H1379.90Z" fill="#fff" stroke="#000" stroke-width="2.3" stroke-linejoin="miter"/>
<circle cx="1074.50" cy="1348.27" r="5.3" fill="#000"/>
<circle cx="1113.54" cy="1413.82" r="5.3" fill="#000"/>
<circle cx="1152.58" cy="1456.60" r="5.3" fill="#000"/>
<circle cx="1230.65" cy="1544.52" r="5.3" fill="#000"/>
<circle cx="1308.72" cy="1595.55" r="5.3" fill="#000"/>
<circle cx="1386.80" cy="1623.02" r="5.3" fill="#000"/>
<circle cx="1074.50" cy="1349.84" r="5.3" fill="#000"/>
<circle cx="1113.54" cy="1416.18" r="5.3" fill="#000"/>
<circle cx="1152.58" cy="1458.17" r="5.3" fill="#000"/>
<circle cx="1230.65" cy="1542.95" r="5.3" fill="#000"/>
<circle cx="1308.72" cy="1595.16" r="5.3" fill="#000"/>
<circle cx="1386.80" cy="1629.70" r="5.3" fill="#000"/>
<use href="#ast" x="1152.70" y="1598.50"/>
<path d="M1235.9 909.7H1305.8" stroke="#000" stroke-width="3.3"/>
<circle cx="1271.90" cy="909.70" r="5.4" fill="#000"/>
<text x="1314.0" y="921.50" font-size="31.6">WT</text>
<path d="M1235.9 952.6H1305.8" stroke="#000" stroke-width="3.3"/>
<path d="M1271.90 944.57L1279.01 958.99H1264.79Z" fill="#fff" stroke="#000" stroke-width="2.3" stroke-linejoin="miter"/>
<text x="1314.0" y="964.40" font-size="31.6">Δ<tspan font-style="italic">ssrA</tspan></text>
<path d="M1235.9 996.2H1305.8" stroke="#000" stroke-width="3.3" stroke-dasharray="15.2 11.8"/>
<path d="M1271.90 988.17L1279.01 1002.59H1264.79Z" fill="#fff" stroke="#000" stroke-width="2.3" stroke-linejoin="miter"/>
<text x="1314.0" y="1008.00" font-size="31.6">Δ<tspan font-style="italic">arfA</tspan></text>
<path d="M1235.9 1041.4H1305.8" stroke="#000" stroke-width="3.3" stroke-dasharray="15.2 11.8"/>
<circle cx="1271.90" cy="1041.40" r="5.4" fill="#000"/>
<text x="1314.0" y="1053.20" font-size="31.6">Δ<tspan font-style="italic">arfB</tspan></text>
<path d="M123.4 851.5V1707.4H1419" fill="none" stroke="#000" stroke-width="2.5"/>
<text x="29.2" y="895.8" font-size="37" letter-spacing="1.1">(B)</text>
<text transform="translate(93.2 1283.2) rotate(-90)" text-anchor="middle" font-size="33.6">OD<tspan font-size="27.8">600</tspan></text>
<text x="777.5" y="1747.3" text-anchor="middle" font-size="31.1">Antibiotic concentrations (µg/mL)</text>
</svg>
</body></html>
